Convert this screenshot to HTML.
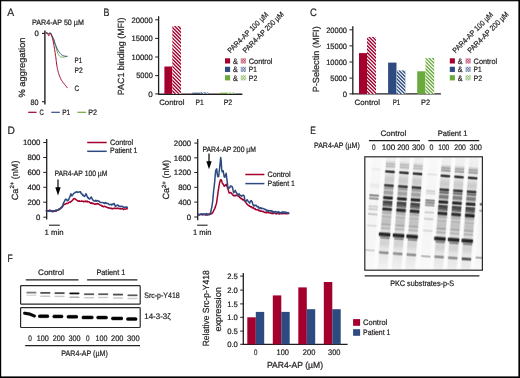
<!DOCTYPE html>
<html><head><meta charset="utf-8"><style>html,body{margin:0;padding:0;background:#fff;overflow:hidden}svg{display:block;will-change:transform}text{font-family:"Liberation Sans",sans-serif;stroke:#231f20;stroke-width:0.22px;text-rendering:geometricPrecision}</style></head>
<body><svg width="520" height="378" viewBox="0 0 520 378" font-family='"Liberation Sans", sans-serif'><defs><pattern id="hr" patternUnits="userSpaceOnUse" width="2.5" height="2.5" patternTransform="rotate(45)"><rect width="2.5" height="2.5" fill="#fff"/><rect width="2.5" height="1.45" fill="#a3002e"/></pattern><pattern id="cr" patternUnits="userSpaceOnUse" width="1.6" height="1.6"><rect width="1.6" height="1.6" fill="#fff"/><rect width="0.8" height="0.8" fill="#a3002e" opacity="0.95"/><rect x="0.8" y="0.8" width="0.8" height="0.8" fill="#a3002e" opacity="0.95"/></pattern><pattern id="hb" patternUnits="userSpaceOnUse" width="2.5" height="2.5" patternTransform="rotate(45)"><rect width="2.5" height="2.5" fill="#fff"/><rect width="2.5" height="1.45" fill="#2d4b80"/></pattern><pattern id="cb" patternUnits="userSpaceOnUse" width="1.6" height="1.6"><rect width="1.6" height="1.6" fill="#fff"/><rect width="0.8" height="0.8" fill="#2d4b80" opacity="0.95"/><rect x="0.8" y="0.8" width="0.8" height="0.8" fill="#2d4b80" opacity="0.95"/></pattern><pattern id="hg" patternUnits="userSpaceOnUse" width="2.5" height="2.5" patternTransform="rotate(45)"><rect width="2.5" height="2.5" fill="#fff"/><rect width="2.5" height="1.45" fill="#6aaa3c"/></pattern><pattern id="cg" patternUnits="userSpaceOnUse" width="1.6" height="1.6"><rect width="1.6" height="1.6" fill="#fff"/><rect width="0.8" height="0.8" fill="#6aaa3c" opacity="0.95"/><rect x="0.8" y="0.8" width="0.8" height="0.8" fill="#6aaa3c" opacity="0.95"/></pattern><filter id="bl1" x="-20%" y="-20%" width="140%" height="140%"><feGaussianBlur stdDeviation="0.6"/></filter><filter id="bl2" x="-10%" y="-10%" width="120%" height="120%"><feGaussianBlur stdDeviation="1.0"/></filter><linearGradient id="lgh" x1="0" y1="0" x2="0" y2="1"><stop offset="0" stop-color="#000" stop-opacity="0.03"/><stop offset="0.11" stop-color="#000" stop-opacity="0.06"/><stop offset="0.23" stop-color="#000" stop-opacity="0.12"/><stop offset="0.35" stop-color="#000" stop-opacity="0.17"/><stop offset="0.51" stop-color="#000" stop-opacity="0.19"/><stop offset="0.65" stop-color="#000" stop-opacity="0.14"/><stop offset="0.75" stop-color="#000" stop-opacity="0.1"/><stop offset="0.89" stop-color="#000" stop-opacity="0.07"/><stop offset="1" stop-color="#000" stop-opacity="0.02"/></linearGradient><linearGradient id="bg" x1="0" y1="0" x2="0" y2="1"><stop offset="0" stop-color="#000" stop-opacity="0"/><stop offset="0.2" stop-color="#000" stop-opacity="0.45"/><stop offset="0.38" stop-color="#000" stop-opacity="0.95"/><stop offset="0.62" stop-color="#000" stop-opacity="0.95"/><stop offset="0.8" stop-color="#000" stop-opacity="0.45"/><stop offset="1" stop-color="#000" stop-opacity="0"/></linearGradient><linearGradient id="lgl" x1="0" y1="0" x2="0" y2="1"><stop offset="0" stop-color="#000" stop-opacity="0.01"/><stop offset="0.5" stop-color="#000" stop-opacity="0.03"/><stop offset="1" stop-color="#000" stop-opacity="0.01"/></linearGradient></defs><rect width="520" height="378" fill="#fff"/><rect x="0" y="0" width="520" height="1.3" fill="#111"/><rect x="0" y="0" width="1.2" height="378" fill="#000"/><rect x="518.4" y="0" width="1.6" height="378" fill="#000"/><rect x="0" y="376.4" width="520" height="1.6" fill="#000"/>
<text x="7.2" y="15.9" font-size="10.82" textLength="6.9" lengthAdjust="spacingAndGlyphs" fill="#231f20">A</text>
<text x="103.4" y="15.9" font-size="10.82" textLength="5.9" lengthAdjust="spacingAndGlyphs" fill="#231f20">B</text>
<text x="309.9" y="15.9" font-size="10.82" textLength="6.8" lengthAdjust="spacingAndGlyphs" fill="#231f20">C</text>
<text x="7.4" y="133.8" font-size="10.82" textLength="7.4" lengthAdjust="spacingAndGlyphs" fill="#231f20">D</text>
<text x="310.2" y="133.9" font-size="10.82" textLength="5.6" lengthAdjust="spacingAndGlyphs" fill="#231f20">E</text>
<text x="7.4" y="261.9" font-size="10.82" textLength="5.2" lengthAdjust="spacingAndGlyphs" fill="#231f20">F</text>
<text x="32" y="24.6" font-size="7.81" textLength="51.9" lengthAdjust="spacingAndGlyphs" fill="#231f20">PAR4-AP 50 µM</text>
<line x1="44.9" y1="30.4" x2="44.9" y2="104.6" stroke="#231f20" stroke-width="1.4"/>
<line x1="42" y1="33.4" x2="44.9" y2="33.4" stroke="#231f20" stroke-width="1.1"/>
<line x1="42" y1="101.7" x2="44.9" y2="101.7" stroke="#231f20" stroke-width="1.1"/>
<text x="38.8" y="36.2" font-size="7.81" text-anchor="end" fill="#231f20">0</text>
<text x="38.6" y="104.8" font-size="7.81" textLength="8" lengthAdjust="spacingAndGlyphs" text-anchor="end" fill="#231f20">80</text>
<text transform="translate(24.6,97.5) rotate(-90)" font-size="9" textLength="60" lengthAdjust="spacingAndGlyphs" fill="#231f20">% aggregation</text>
<path d="M46.1,32.6 L46.24,32.65 L46.44,32.73 L46.67,32.81 L46.92,32.91 L47.17,33.01 L47.4,33.1 L47.61,33.21 L47.82,33.34 L48.02,33.47 L48.24,33.59 L48.46,33.67 L48.7,33.7 L48.96,33.63 L49.24,33.46 L49.53,33.26 L49.83,33.09 L50.12,33.02 L50.4,33.1 L50.67,33.36 L50.94,33.75 L51.2,34.23 L51.46,34.77 L51.73,35.34 L52,35.9 L52.28,36.46 L52.57,37.04 L52.87,37.65 L53.16,38.28 L53.44,38.93 L53.7,39.6 L53.94,40.31 L54.18,41.07 L54.4,41.84 L54.61,42.61 L54.81,43.34 L55,44 L55.16,44.55 L55.3,45 L55.42,45.41 L55.56,45.84 L55.71,46.35 L55.9,47 L56.14,47.85 L56.41,48.86 L56.7,49.96 L57,51.05 L57.31,52.06 L57.6,52.9 L57.88,53.58 L58.17,54.15 L58.45,54.64 L58.73,55.07 L59.02,55.45 L59.3,55.8 L59.57,56.11 L59.84,56.36 L60.1,56.57 L60.37,56.74 L60.67,56.88 L61,57 L61.36,57.1 L61.76,57.18 L62.17,57.23 L62.6,57.24 L63.05,57.24 L63.5,57.2 L64.01,57.12 L64.57,56.98 L65.16,56.81 L65.7,56.64 L66.17,56.5 L66.5,56.4" fill="none" stroke="#6aaa3c" stroke-width="1" stroke-linejoin="round" stroke-linecap="round"/>
<path d="M46.1,32.5 L46.24,32.55 L46.44,32.63 L46.67,32.71 L46.92,32.81 L47.17,32.91 L47.4,33 L47.61,33.11 L47.82,33.24 L48.02,33.37 L48.24,33.49 L48.46,33.57 L48.7,33.6 L48.96,33.53 L49.24,33.36 L49.53,33.16 L49.83,32.99 L50.12,32.91 L50.4,33 L50.67,33.27 L50.94,33.69 L51.2,34.2 L51.46,34.77 L51.73,35.35 L52,35.9 L52.28,36.42 L52.56,36.93 L52.84,37.46 L53.13,38.02 L53.42,38.63 L53.7,39.3 L53.98,40.05 L54.25,40.87 L54.52,41.74 L54.8,42.64 L55.09,43.53 L55.4,44.4 L55.73,45.27 L56.09,46.15 L56.45,47.03 L56.83,47.9 L57.21,48.73 L57.6,49.5 L58,50.23 L58.41,50.93 L58.83,51.59 L59.26,52.21 L59.68,52.78 L60.1,53.3 L60.52,53.76 L60.93,54.17 L61.34,54.54 L61.76,54.86 L62.18,55.14 L62.6,55.4 L63.03,55.62 L63.48,55.79 L63.93,55.92 L64.37,56.03 L64.8,56.12 L65.2,56.2 L65.59,56.26 L65.99,56.29 L66.36,56.3 L66.7,56.3 L66.99,56.3 L67.2,56.3" fill="none" stroke="#2d4b80" stroke-width="1" stroke-linejoin="round" stroke-linecap="round"/>
<path d="M46.1,33 L46.29,33.09 L46.57,33.19 L46.89,33.33 L47.23,33.49 L47.54,33.68 L47.8,33.9 L48,34.21 L48.16,34.6 L48.31,35.03 L48.44,35.43 L48.57,35.74 L48.7,35.9 L48.84,35.89 L48.97,35.75 L49.1,35.52 L49.23,35.24 L49.36,34.95 L49.5,34.7 L49.64,34.41 L49.77,34.03 L49.9,33.65 L50.04,33.33 L50.21,33.16 L50.4,33.2 L50.63,33.49 L50.89,33.97 L51.17,34.59 L51.46,35.3 L51.74,36.05 L52,36.8 L52.23,37.53 L52.46,38.3 L52.67,39.1 L52.88,39.96 L53.09,40.89 L53.3,41.9 L53.52,43.01 L53.73,44.21 L53.95,45.49 L54.17,46.81 L54.38,48.15 L54.6,49.5 L54.82,50.88 L55.05,52.31 L55.27,53.77 L55.5,55.23 L55.71,56.65 L55.9,58 L56.07,59.29 L56.21,60.53 L56.35,61.74 L56.49,62.91 L56.63,64.07 L56.8,65.2 L56.99,66.31 L57.19,67.4 L57.39,68.46 L57.61,69.5 L57.85,70.51 L58.1,71.5 L58.37,72.47 L58.66,73.43 L58.97,74.37 L59.28,75.27 L59.59,76.11 L59.9,76.9 L60.19,77.6 L60.47,78.23 L60.74,78.81 L61.03,79.37 L61.35,79.92 L61.7,80.5 L62.1,81.1 L62.53,81.7 L62.98,82.29 L63.45,82.89 L63.93,83.49 L64.4,84.1 L64.91,84.75 L65.46,85.46 L66.02,86.17 L66.54,86.84 L66.98,87.4 L67.3,87.8" fill="none" stroke="#a3002e" stroke-width="1" stroke-linejoin="round" stroke-linecap="round"/>
<text x="74.6" y="63.1" font-size="7.81" textLength="7.6" lengthAdjust="spacingAndGlyphs" fill="#231f20">P1</text>
<text x="74.6" y="72.9" font-size="7.81" textLength="8.2" lengthAdjust="spacingAndGlyphs" fill="#231f20">P2</text>
<text x="74.6" y="91" font-size="7.81" textLength="4.6" lengthAdjust="spacingAndGlyphs" fill="#231f20">C</text>
<line x1="28.2" y1="112.3" x2="36.6" y2="112.3" stroke="#a3002e" stroke-width="1.2"/>
<text x="39.4" y="115.1" font-size="7.81" textLength="4.2" lengthAdjust="spacingAndGlyphs" fill="#231f20">C</text>
<line x1="51.3" y1="112.3" x2="59.8" y2="112.3" stroke="#2d4b80" stroke-width="1.2"/>
<text x="62.2" y="115.1" font-size="7.81" textLength="8" lengthAdjust="spacingAndGlyphs" fill="#231f20">P1</text>
<line x1="77.5" y1="112.3" x2="86.1" y2="112.3" stroke="#6aaa3c" stroke-width="1.2"/>
<text x="88.3" y="115.1" font-size="7.81" textLength="8.8" lengthAdjust="spacingAndGlyphs" fill="#231f20">P2</text>
<line x1="158.6" y1="16.2" x2="158.6" y2="94.2" stroke="#231f20" stroke-width="1.3"/>
<line x1="158" y1="94.2" x2="242.4" y2="94.2" stroke="#231f20" stroke-width="1.5"/>
<line x1="155.2" y1="19.8" x2="158.6" y2="19.8" stroke="#231f20" stroke-width="1"/>
<text x="152.8" y="22.65" font-size="7.81" textLength="21.2" lengthAdjust="spacingAndGlyphs" text-anchor="end" fill="#231f20">20000</text>
<line x1="155.2" y1="38.4" x2="158.6" y2="38.4" stroke="#231f20" stroke-width="1"/>
<text x="152.8" y="41.25" font-size="7.81" textLength="21.2" lengthAdjust="spacingAndGlyphs" text-anchor="end" fill="#231f20">15000</text>
<line x1="155.2" y1="57" x2="158.6" y2="57" stroke="#231f20" stroke-width="1"/>
<text x="152.8" y="59.85" font-size="7.81" textLength="21.2" lengthAdjust="spacingAndGlyphs" text-anchor="end" fill="#231f20">10000</text>
<line x1="155.2" y1="75.6" x2="158.6" y2="75.6" stroke="#231f20" stroke-width="1"/>
<text x="152.8" y="78.45" font-size="7.81" textLength="16.6" lengthAdjust="spacingAndGlyphs" text-anchor="end" fill="#231f20">5000</text>
<line x1="155.2" y1="93.9" x2="158.6" y2="93.9" stroke="#231f20" stroke-width="1"/>
<text x="152.8" y="96.75" font-size="7.81" textLength="4.5" lengthAdjust="spacingAndGlyphs" text-anchor="end" fill="#231f20">0</text>
<text transform="translate(124.4,95.3) rotate(-90)" font-size="8.9" textLength="77.8" lengthAdjust="spacingAndGlyphs" fill="#231f20">PAC1 binding (MFI)</text>
<rect x="164.4" y="66.5" width="7.8" height="27.4" fill="#a3002e"/>
<clipPath id="hc1"><rect x="172.2" y="26.1" width="8.8" height="67.8"/></clipPath>
<g clip-path="url(#hc1)"><rect x="172.2" y="26.1" width="8.8" height="67.8" fill="#a3002e"/>
<path d="M171.2,10.33 L182,21.13 M171.2,13.86 L182,24.66 M171.2,17.39 L182,28.19 M171.2,20.92 L182,31.72 M171.2,24.45 L182,35.25 M171.2,27.98 L182,38.78 M171.2,31.51 L182,42.31 M171.2,35.04 L182,45.84 M171.2,38.57 L182,49.37 M171.2,42.1 L182,52.9 M171.2,45.63 L182,56.43 M171.2,49.16 L182,59.96 M171.2,52.69 L182,63.49 M171.2,56.22 L182,67.02 M171.2,59.75 L182,70.55 M171.2,63.28 L182,74.08 M171.2,66.81 L182,77.61 M171.2,70.34 L182,81.14 M171.2,73.87 L182,84.67 M171.2,77.4 L182,88.2 M171.2,80.93 L182,91.73 M171.2,84.46 L182,95.26 M171.2,87.99 L182,98.79 M171.2,91.52 L182,102.32 M171.2,95.05 L182,105.85" stroke="#fff" stroke-width="1.15" fill="none"/></g>
<rect x="192.3" y="92.7" width="8.4" height="1" fill="#2d4b80"/>
<rect x="200.7" y="92.4" width="7.6" height="1.3" fill="url(#hb)"/>
<rect x="219.8" y="92.7" width="8" height="1" fill="#6aaa3c"/>
<rect x="227.8" y="92.6" width="7.6" height="1.1" fill="url(#hg)"/>
<text x="159.2" y="105.1" font-size="7.81" textLength="25.3" lengthAdjust="spacingAndGlyphs" fill="#231f20">Control</text>
<text x="195.5" y="105.1" font-size="7.81" textLength="8.2" lengthAdjust="spacingAndGlyphs" fill="#231f20">P1</text>
<text x="223.7" y="105.1" font-size="7.81" textLength="8.6" lengthAdjust="spacingAndGlyphs" fill="#231f20">P2</text>
<rect x="225" y="58.3" width="5.1" height="5.2" fill="#a3002e"/>
<text x="233" y="64" font-size="7.81" textLength="4.8" lengthAdjust="spacingAndGlyphs" fill="#231f20">&amp;</text>
<rect x="240.7" y="58.3" width="5.3" height="5.2" fill="url(#cr)"/>
<text x="248.8" y="64" font-size="7.81" textLength="23.6" lengthAdjust="spacingAndGlyphs" fill="#231f20">Control</text>
<rect x="225" y="66.75" width="5.1" height="5.2" fill="#2d4b80"/>
<text x="233" y="72.45" font-size="7.81" textLength="4.8" lengthAdjust="spacingAndGlyphs" fill="#231f20">&amp;</text>
<rect x="240.7" y="66.75" width="5.3" height="5.2" fill="url(#cb)"/>
<text x="248.8" y="72.45" font-size="7.81" textLength="8" lengthAdjust="spacingAndGlyphs" fill="#231f20">P1</text>
<rect x="225" y="75.2" width="5.1" height="5.2" fill="#6aaa3c"/>
<text x="233" y="80.9" font-size="7.81" textLength="4.8" lengthAdjust="spacingAndGlyphs" fill="#231f20">&amp;</text>
<rect x="240.7" y="75.2" width="5.3" height="5.2" fill="url(#cg)"/>
<text x="248.8" y="80.9" font-size="7.81" textLength="8.6" lengthAdjust="spacingAndGlyphs" fill="#231f20">P2</text>
<text transform="translate(230.6,53.4) rotate(-45)" font-size="7.6" textLength="54" lengthAdjust="spacingAndGlyphs" fill="#231f20">PAR4-AP 100 µM</text>
<text transform="translate(245.7,53.4) rotate(-45)" font-size="7.6" textLength="54.6" lengthAdjust="spacingAndGlyphs" fill="#231f20">PAR4-AP 200 µM</text>
<line x1="352.8" y1="26.2" x2="352.8" y2="94.2" stroke="#231f20" stroke-width="1.3"/>
<line x1="352.2" y1="93.9" x2="440.9" y2="93.9" stroke="#231f20" stroke-width="1.3"/>
<line x1="349.4" y1="29.8" x2="352.8" y2="29.8" stroke="#231f20" stroke-width="1"/>
<text x="347" y="32.65" font-size="7.81" textLength="20.8" lengthAdjust="spacingAndGlyphs" text-anchor="end" fill="#231f20">20000</text>
<line x1="349.4" y1="45.9" x2="352.8" y2="45.9" stroke="#231f20" stroke-width="1"/>
<text x="347" y="48.75" font-size="7.81" textLength="20.8" lengthAdjust="spacingAndGlyphs" text-anchor="end" fill="#231f20">15000</text>
<line x1="349.4" y1="62" x2="352.8" y2="62" stroke="#231f20" stroke-width="1"/>
<text x="347" y="64.85" font-size="7.81" textLength="20.8" lengthAdjust="spacingAndGlyphs" text-anchor="end" fill="#231f20">10000</text>
<line x1="349.4" y1="78.1" x2="352.8" y2="78.1" stroke="#231f20" stroke-width="1"/>
<text x="347" y="80.95" font-size="7.81" textLength="16.8" lengthAdjust="spacingAndGlyphs" text-anchor="end" fill="#231f20">5000</text>
<line x1="349.4" y1="93.9" x2="352.8" y2="93.9" stroke="#231f20" stroke-width="1"/>
<text x="347" y="96.75" font-size="7.81" textLength="4.3" lengthAdjust="spacingAndGlyphs" text-anchor="end" fill="#231f20">0</text>
<text transform="translate(318.9,92.3) rotate(-90)" font-size="8.9" textLength="66" lengthAdjust="spacingAndGlyphs" fill="#231f20">P-Selectin (MFI)</text>
<rect x="359" y="53.1" width="8" height="40.8" fill="#a3002e"/>
<clipPath id="hc2"><rect x="367" y="36.8" width="9.1" height="57.1"/></clipPath>
<g clip-path="url(#hc2)"><rect x="367" y="36.8" width="9.1" height="57.1" fill="#a3002e"/>
<path d="M366,21.57 L377.1,32.67 M366,25.1 L377.1,36.2 M366,28.63 L377.1,39.73 M366,32.16 L377.1,43.26 M366,35.69 L377.1,46.79 M366,39.22 L377.1,50.32 M366,42.75 L377.1,53.85 M366,46.28 L377.1,57.38 M366,49.81 L377.1,60.91 M366,53.34 L377.1,64.44 M366,56.87 L377.1,67.97 M366,60.4 L377.1,71.5 M366,63.93 L377.1,75.03 M366,67.46 L377.1,78.56 M366,70.99 L377.1,82.09 M366,74.52 L377.1,85.62 M366,78.05 L377.1,89.15 M366,81.58 L377.1,92.68 M366,85.11 L377.1,96.21 M366,88.64 L377.1,99.74 M366,92.17 L377.1,103.27 M366,95.7 L377.1,106.8" stroke="#fff" stroke-width="1.15" fill="none"/></g>
<rect x="388.1" y="62.6" width="8.4" height="31.3" fill="#2d4b80"/>
<clipPath id="hc3"><rect x="396.5" y="70.3" width="9.1" height="23.6"/></clipPath>
<g clip-path="url(#hc3)"><rect x="396.5" y="70.3" width="9.1" height="23.6" fill="#2d4b80"/>
<path d="M395.5,54.6 L406.6,65.7 M395.5,58.13 L406.6,69.23 M395.5,61.66 L406.6,72.76 M395.5,65.19 L406.6,76.29 M395.5,68.72 L406.6,79.82 M395.5,72.25 L406.6,83.35 M395.5,75.78 L406.6,86.88 M395.5,79.31 L406.6,90.41 M395.5,82.84 L406.6,93.94 M395.5,86.37 L406.6,97.47 M395.5,89.9 L406.6,101 M395.5,93.43 L406.6,104.53" stroke="#fff" stroke-width="1.15" fill="none"/></g>
<rect x="417.2" y="71.3" width="8.1" height="22.6" fill="#6aaa3c"/>
<clipPath id="hc4"><rect x="425.3" y="57.8" width="9.1" height="36.1"/></clipPath>
<g clip-path="url(#hc4)"><rect x="425.3" y="57.8" width="9.1" height="36.1" fill="#6aaa3c"/>
<path d="M424.3,41.04 L435.4,52.14 M424.3,44.57 L435.4,55.67 M424.3,48.1 L435.4,59.2 M424.3,51.63 L435.4,62.73 M424.3,55.16 L435.4,66.26 M424.3,58.69 L435.4,69.79 M424.3,62.22 L435.4,73.32 M424.3,65.75 L435.4,76.85 M424.3,69.28 L435.4,80.38 M424.3,72.81 L435.4,83.91 M424.3,76.34 L435.4,87.44 M424.3,79.87 L435.4,90.97 M424.3,83.4 L435.4,94.5 M424.3,86.93 L435.4,98.03 M424.3,90.46 L435.4,101.56 M424.3,93.99 L435.4,105.09" stroke="#fff" stroke-width="1.15" fill="none"/></g>
<text x="354.6" y="105.1" font-size="7.81" textLength="25.3" lengthAdjust="spacingAndGlyphs" fill="#231f20">Control</text>
<text x="392.7" y="105.1" font-size="7.81" textLength="7.6" lengthAdjust="spacingAndGlyphs" fill="#231f20">P1</text>
<text x="421" y="105.1" font-size="7.81" textLength="9" lengthAdjust="spacingAndGlyphs" fill="#231f20">P2</text>
<rect x="449.8" y="58.3" width="5.1" height="5.2" fill="#a3002e"/>
<text x="457.8" y="64" font-size="7.81" textLength="4.8" lengthAdjust="spacingAndGlyphs" fill="#231f20">&amp;</text>
<rect x="465.5" y="58.3" width="5.3" height="5.2" fill="url(#cr)"/>
<text x="473.6" y="64" font-size="7.81" textLength="23.6" lengthAdjust="spacingAndGlyphs" fill="#231f20">Control</text>
<rect x="449.8" y="66.75" width="5.1" height="5.2" fill="#2d4b80"/>
<text x="457.8" y="72.45" font-size="7.81" textLength="4.8" lengthAdjust="spacingAndGlyphs" fill="#231f20">&amp;</text>
<rect x="465.5" y="66.75" width="5.3" height="5.2" fill="url(#cb)"/>
<text x="473.6" y="72.45" font-size="7.81" textLength="8" lengthAdjust="spacingAndGlyphs" fill="#231f20">P1</text>
<rect x="449.8" y="75.2" width="5.1" height="5.2" fill="#6aaa3c"/>
<text x="457.8" y="80.9" font-size="7.81" textLength="4.8" lengthAdjust="spacingAndGlyphs" fill="#231f20">&amp;</text>
<rect x="465.5" y="75.2" width="5.3" height="5.2" fill="url(#cg)"/>
<text x="473.6" y="80.9" font-size="7.81" textLength="8.6" lengthAdjust="spacingAndGlyphs" fill="#231f20">P2</text>
<text transform="translate(455.5,53.4) rotate(-45)" font-size="7.6" textLength="54" lengthAdjust="spacingAndGlyphs" fill="#231f20">PAR4-AP 100 µM</text>
<text transform="translate(470.6,53.4) rotate(-45)" font-size="7.6" textLength="54.6" lengthAdjust="spacingAndGlyphs" fill="#231f20">PAR4-AP 200 µM</text>
<line x1="46.7" y1="139.1" x2="46.7" y2="219.5" stroke="#231f20" stroke-width="1.3"/>
<line x1="43.3" y1="142.5" x2="46.7" y2="142.5" stroke="#231f20" stroke-width="1"/>
<text x="40.4" y="145.35" font-size="7.81" text-anchor="end" fill="#231f20">1000</text>
<line x1="43.3" y1="157.5" x2="46.7" y2="157.5" stroke="#231f20" stroke-width="1"/>
<text x="40.4" y="160.35" font-size="7.81" text-anchor="end" fill="#231f20">800</text>
<line x1="43.3" y1="172.4" x2="46.7" y2="172.4" stroke="#231f20" stroke-width="1"/>
<text x="40.4" y="175.25" font-size="7.81" text-anchor="end" fill="#231f20">600</text>
<line x1="43.3" y1="187.3" x2="46.7" y2="187.3" stroke="#231f20" stroke-width="1"/>
<text x="40.4" y="190.15" font-size="7.81" text-anchor="end" fill="#231f20">400</text>
<line x1="43.3" y1="202.2" x2="46.7" y2="202.2" stroke="#231f20" stroke-width="1"/>
<text x="40.4" y="205.05" font-size="7.81" text-anchor="end" fill="#231f20">200</text>
<line x1="43.3" y1="217.2" x2="46.7" y2="217.2" stroke="#231f20" stroke-width="1"/>
<text x="40.4" y="220.05" font-size="7.81" text-anchor="end" fill="#231f20">0</text>
<text transform="translate(17.6,200.2) rotate(-90)" font-size="9" textLength="39.6" lengthAdjust="spacingAndGlyphs" fill="#231f20">Ca<tspan font-size="6.0" dy="-3.6">2+</tspan><tspan dy="3.6"> (nM)</tspan></text>
<line x1="87.2" y1="142.5" x2="106.7" y2="142.5" stroke="#a3002e" stroke-width="1.5"/>
<text x="110" y="144.7" font-size="7.81" textLength="23.2" lengthAdjust="spacingAndGlyphs" fill="#231f20">Control</text>
<line x1="87.2" y1="151.3" x2="106.7" y2="151.3" stroke="#2d4b80" stroke-width="1.5"/>
<text x="110" y="153.3" font-size="7.81" textLength="27.4" lengthAdjust="spacingAndGlyphs" fill="#231f20">Patient 1</text>
<text x="54.4" y="175.7" font-size="7.81" textLength="53" lengthAdjust="spacingAndGlyphs" fill="#231f20">PAR4-AP 100 µM</text>
<line x1="58" y1="179.5" x2="58" y2="189" stroke="#000" stroke-width="1.2"/>
<path d="M55.3,187.2 L60.7,187.2 L58,195.4 Z" fill="#000"/>
<line x1="49" y1="225.2" x2="59.8" y2="225.2" stroke="#231f20" stroke-width="1.1"/>
<text x="44.6" y="235.1" font-size="7.81" textLength="19" lengthAdjust="spacingAndGlyphs" fill="#231f20">1 min</text>
<path d="M46.3,210.73 L46.9,210.95 L47.5,210.73 L48.1,210.88 L48.7,210.84 L49.3,210.28 L49.9,210.17 L50.5,211.02 L51.1,210.64 L51.7,210.76 L52.3,211.58 L52.9,211.25 L53.5,211.55 L54.1,211.17 L54.7,211.26 L55.3,210.76 L55.9,211.13 L56.5,211.08 L57.1,210.46 L57.7,210.35 L58.3,209.98 L58.9,209.13 L59.5,209.45 L60.1,208.99 L60.7,208.43 L61.3,207.69 L61.9,207.57 L62.5,206.35 L63.1,205.7 L63.7,204.98 L64.3,204.3 L64.9,204.31 L65.5,203.66 L66.1,203.84 L66.7,203.34 L67.3,203.6 L67.9,203.35 L68.5,202.46 L69.1,202.3 L69.7,202.11 L70.3,202.4 L70.9,201.53 L71.5,201.31 L72.1,200.62 L72.7,200.09 L73.3,199.27 L73.9,198.52 L74.5,198.55 L75.1,198.89 L75.7,199.52 L76.3,199.66 L76.9,200.29 L77.5,200.64 L78.1,201.17 L78.7,201.29 L79.3,200.82 L79.9,201.36 L80.5,201.36 L81.1,201.21 L81.7,200.97 L82.3,201.32 L82.9,201.08 L83.5,201.85 L84.1,201.73 L84.7,201.35 L85.3,201.04 L85.9,201.63 L86.5,201.64 L87.1,201.05 L87.7,201.9 L88.3,201.77 L88.9,201.75 L89.5,202.15 L90.1,202.87 L90.7,203.25 L91.3,202.79 L91.9,203.46 L92.5,203.04 L93.1,203.73 L93.7,203.47 L94.3,204.05 L94.9,204.23 L95.5,203.84 L96.1,204.32 L96.7,203.74 L97.3,203.57 L97.9,204.08 L98.5,203.79 L99.1,204.25 L99.7,204.76 L100.3,205.25 L100.9,205.14 L101.5,205.34 L102.1,206.38 L102.7,206 L103.3,206.67 L103.9,206.7 L104.5,206.32 L105.1,206.5 L105.7,206.77 L106.3,207.09 L106.9,207.26 L107.5,207.45 L108.1,207.7 L108.7,208.16 L109.3,207.95 L109.9,208.06 L110.5,208.49 L111.1,208.23 L111.7,208.32 L112.3,208.93 L112.9,208.52 L113.5,208.54 L114.1,208.06 L114.7,208.42 L115.3,208.57 L115.9,208.07 L116.5,208.6 L117.1,208.62 L117.7,208.1 L118.3,208.61 L118.9,208.47 L119.5,208.66 L120.1,208.47 L120.7,208.89 L121.3,209.01 L121.9,208.47 L122.5,208.6 L123.1,209.26 L123.7,209.62 L124.3,208.93 L124.9,209.07 L125.5,209.14 L126.1,208.85 L126.7,208.84 L127.3,208.75" fill="none" stroke="#a3002e" stroke-width="1.5" stroke-linejoin="round" stroke-linecap="round"/>
<path d="M46.3,210.74 L46.9,210.89 L47.5,210.97 L48.1,211.15 L48.7,210.97 L49.3,211.19 L49.9,210.32 L50.5,210.83 L51.1,211.39 L51.7,211.18 L52.3,211.51 L52.9,210.8 L53.5,211.05 L54.1,210.69 L54.7,210.85 L55.3,210.74 L55.9,210.04 L56.5,210.04 L57.1,209.89 L57.7,210.32 L58.3,209.95 L58.9,209.14 L59.5,209.51 L60.1,208.31 L60.7,208.25 L61.3,207.22 L61.9,206.56 L62.5,206.49 L63.1,204.07 L63.7,202.39 L64.3,201.82 L64.9,200.37 L65.5,199.19 L66.1,199.26 L66.7,199.61 L67.3,200.8 L67.9,200 L68.5,200.14 L69.1,198.57 L69.7,197.16 L70.3,195.4 L70.9,193.73 L71.5,195.79 L72.1,195.7 L72.7,194.83 L73.3,193.94 L73.9,193.39 L74.5,193.15 L75.1,192.24 L75.7,192.6 L76.3,191.95 L76.9,191.75 L77.5,192.37 L78.1,192.15 L78.7,192.1 L79.3,191.97 L79.9,191.83 L80.5,191.7 L81.1,193.59 L81.7,193.42 L82.3,194.75 L82.9,195.44 L83.5,195.12 L84.1,196.35 L84.7,196.39 L85.3,195.6 L85.9,193.73 L86.5,194.7 L87.1,196.22 L87.7,197.78 L88.3,197.51 L88.9,198.55 L89.5,199.05 L90.1,198.58 L90.7,197.49 L91.3,197.02 L91.9,198.07 L92.5,199.89 L93.1,200.05 L93.7,200.77 L94.3,200.9 L94.9,201.04 L95.5,200.3 L96.1,201.26 L96.7,200.42 L97.3,200.69 L97.9,200.98 L98.5,201.31 L99.1,201.01 L99.7,202.13 L100.3,202.3 L100.9,202.53 L101.5,202.62 L102.1,202.56 L102.7,202.55 L103.3,202.65 L103.9,203.19 L104.5,203.5 L105.1,202.66 L105.7,202.55 L106.3,203.49 L106.9,203.28 L107.5,203.46 L108.1,203.59 L108.7,204.24 L109.3,204.74 L109.9,204.43 L110.5,204.47 L111.1,204.17 L111.7,205.09 L112.3,204.07 L112.9,204.29 L113.5,204.4 L114.1,203.45 L114.7,204.65 L115.3,206.31 L115.9,205.99 L116.5,205.86 L117.1,204.9 L117.7,205.17 L118.3,205.31 L118.9,206.42 L119.5,206.29 L120.1,206.25 L120.7,206.6 L121.3,206.25 L121.9,206.48 L122.5,206.35 L123.1,206.79 L123.7,207.43 L124.3,207.26 L124.9,207.16 L125.5,207.36 L126.1,207.02 L126.7,207.01 L127.3,207.37" fill="none" stroke="#2d4b80" stroke-width="1.5" stroke-linejoin="round" stroke-linecap="round"/>
<line x1="197.7" y1="139.1" x2="197.7" y2="220.2" stroke="#231f20" stroke-width="1.3"/>
<line x1="194.3" y1="143.1" x2="197.7" y2="143.1" stroke="#231f20" stroke-width="1"/>
<text x="191.2" y="145.95" font-size="7.81" text-anchor="end" fill="#231f20">2000</text>
<line x1="194.3" y1="157.8" x2="197.7" y2="157.8" stroke="#231f20" stroke-width="1"/>
<text x="191.2" y="160.65" font-size="7.81" text-anchor="end" fill="#231f20">1600</text>
<line x1="194.3" y1="172.5" x2="197.7" y2="172.5" stroke="#231f20" stroke-width="1"/>
<text x="191.2" y="175.35" font-size="7.81" text-anchor="end" fill="#231f20">1200</text>
<line x1="194.3" y1="187.3" x2="197.7" y2="187.3" stroke="#231f20" stroke-width="1"/>
<text x="191.2" y="190.15" font-size="7.81" text-anchor="end" fill="#231f20">800</text>
<line x1="194.3" y1="202.1" x2="197.7" y2="202.1" stroke="#231f20" stroke-width="1"/>
<text x="191.2" y="204.95" font-size="7.81" text-anchor="end" fill="#231f20">400</text>
<line x1="194.3" y1="217" x2="197.7" y2="217" stroke="#231f20" stroke-width="1"/>
<text x="191.2" y="219.85" font-size="7.81" text-anchor="end" fill="#231f20">0</text>
<text transform="translate(169.2,199.6) rotate(-90)" font-size="9" textLength="39.6" lengthAdjust="spacingAndGlyphs" fill="#231f20">Ca<tspan font-size="6.0" dy="-3.6">2+</tspan><tspan dy="3.6"> (nM)</tspan></text>
<text x="202.5" y="151.8" font-size="7.81" textLength="53.5" lengthAdjust="spacingAndGlyphs" fill="#231f20">PAR4-AP 200 µM</text>
<line x1="209" y1="153.6" x2="209" y2="163" stroke="#000" stroke-width="1.2"/>
<path d="M206.3,161.2 L211.7,161.2 L209,169.3 Z" fill="#000"/>
<line x1="245.3" y1="174.5" x2="264.4" y2="174.5" stroke="#a3002e" stroke-width="1.5"/>
<text x="267.5" y="176.7" font-size="7.81" textLength="23.2" lengthAdjust="spacingAndGlyphs" fill="#231f20">Control</text>
<line x1="245.3" y1="183.6" x2="264.4" y2="183.6" stroke="#2d4b80" stroke-width="1.5"/>
<text x="267.5" y="185.5" font-size="7.81" textLength="27.4" lengthAdjust="spacingAndGlyphs" fill="#231f20">Patient 1</text>
<line x1="197.1" y1="225.2" x2="207.6" y2="225.2" stroke="#231f20" stroke-width="1.1"/>
<text x="192.9" y="235.1" font-size="7.81" textLength="18.6" lengthAdjust="spacingAndGlyphs" fill="#231f20">1 min</text>
<path d="M198.2,214.56 L198.7,214.63 L199.2,214.94 L199.7,214.51 L200.2,214.52 L200.7,214.57 L201.2,214.19 L201.7,214.46 L202.2,214.55 L202.7,214.68 L203.2,214.05 L203.7,214.29 L204.2,214.15 L204.7,214.85 L205.2,214.79 L205.7,214.26 L206.2,215.12 L206.7,215.07 L207.2,214.76 L207.7,214.69 L208.2,214.25 L208.7,214.08 L209.2,214.51 L209.7,214.06 L210.2,214.14 L210.7,214.05 L211.2,213.56 L211.7,213.65 L212.2,213.11 L212.7,212.64 L213.2,211.52 L213.7,210.7 L214.2,209.52 L214.7,208.61 L215.2,207.36 L215.7,205.51 L216.2,204.46 L216.7,202.05 L217.2,198.41 L217.7,194.85 L218.2,191.17 L218.7,187.92 L219.2,184.92 L219.7,182.34 L220.2,180.74 L220.7,179.69 L221.2,179.8 L221.7,180.81 L222.2,182.76 L222.7,183.89 L223.2,184.06 L223.7,185.18 L224.2,186.25 L224.7,185.55 L225.2,185.71 L225.7,184.89 L226.2,184.3 L226.7,185.26 L227.2,187.02 L227.7,188.18 L228.2,189.64 L228.7,191.48 L229.2,193.06 L229.7,192.97 L230.2,192.5 L230.7,192.71 L231.2,192.86 L231.7,193.36 L232.2,194.56 L232.7,194.54 L233.2,195.42 L233.7,195.74 L234.2,195.45 L234.7,195.87 L235.2,195.27 L235.7,195.67 L236.2,195.15 L236.7,195.43 L237.2,195.24 L237.7,195.29 L238.2,196.13 L238.7,196.51 L239.2,196.58 L239.7,197.63 L240.2,197.48 L240.7,197.99 L241.2,198.76 L241.7,198.92 L242.2,198.76 L242.7,199.86 L243.2,199.46 L243.7,199.8 L244.2,200.75 L244.7,201.1 L245.2,201.82 L245.7,202.37 L246.2,203.01 L246.7,203.91 L247.2,204.06 L247.7,204.84 L248.2,205.08 L248.7,205.45 L249.2,206.19 L249.7,206.05 L250.2,206.42 L250.7,206.97 L251.2,206.64 L251.7,206.9 L252.2,207.87 L252.7,208.02 L253.2,207.75 L253.7,207.93 L254.2,208.66 L254.7,209.08 L255.2,208.65 L255.7,209.56 L256.2,209.72 L256.7,209.66 L257.2,209.68 L257.7,209.58 L258.2,209.71 L258.7,210.73 L259.2,210.26 L259.7,210.87 L260.2,210.64 L260.7,211.3 L261.2,211.25 L261.7,211.12 L262.2,211.17 L262.7,211.81 L263.2,211.37 L263.7,211.67 L264.2,212.11 L264.7,212.53 L265.2,212.43 L265.7,212.21 L266.2,212.86 L266.7,212.3 L267.2,212.21 L267.7,212.51 L268.2,212.75 L268.7,212.48 L269.2,212.66 L269.7,212.91 L270.2,213.17 L270.7,212.85 L271.2,213.09 L271.7,213.59 L272.2,213.69 L272.7,213.41 L273.2,213.46 L273.7,213.39 L274.2,213.01 L274.7,212.93 L275.2,212.94 L275.7,213.76 L276.2,213.59 L276.7,213.85 L277.2,213.03 L277.7,213.61 L278.2,213.49 L278.7,213.74 L279.2,213.4 L279.7,214.03 L280.2,213.2 L280.7,213.59 L281.2,213.72 L281.7,213.83 L282.2,213.65 L282.7,213.58 L283.2,213.62 L283.7,213.7 L284.2,213.18 L284.7,213.51 L285.2,213.73 L285.7,213.74 L286.2,213.36 L286.7,213.73 L287.2,213.82 L287.7,213.59 L288.2,213.67 L288.7,213.48" fill="none" stroke="#a3002e" stroke-width="1.5" stroke-linejoin="round" stroke-linecap="round"/>
<path d="M198.2,214.04 L198.7,214.7 L199.2,214.72 L199.7,214.99 L200.2,214.01 L200.7,214.1 L201.2,214 L201.7,214.13 L202.2,214.92 L202.7,214.03 L203.2,214.62 L203.7,214.08 L204.2,214.13 L204.7,214.27 L205.2,214.81 L205.7,214.4 L206.2,213.48 L206.7,213.9 L207.2,213.74 L207.7,214.85 L208.2,214.79 L208.7,214.81 L209.2,214.87 L209.7,214.31 L210.2,213.49 L210.7,212.12 L211.2,209.57 L211.7,207.79 L212.2,204.58 L212.7,201.18 L213.2,195.4 L213.7,190.26 L214.2,186.07 L214.7,181.67 L215.2,175.39 L215.7,170.63 L216.2,169.68 L216.7,168.91 L217.2,173.49 L217.7,176.57 L218.2,176.76 L218.7,176.47 L219.2,171.05 L219.7,167.36 L220.2,162.47 L220.7,157.53 L221.2,160.82 L221.7,169.75 L222.2,171.95 L222.7,170.97 L223.2,170.84 L223.7,173.94 L224.2,176.96 L224.7,177.26 L225.2,175.72 L225.7,174.56 L226.2,173.34 L226.7,177.91 L227.2,181.78 L227.7,185.91 L228.2,188.06 L228.7,188.05 L229.2,188.07 L229.7,187.93 L230.2,186.16 L230.7,185.94 L231.2,186.56 L231.7,186.23 L232.2,186.64 L232.7,188.26 L233.2,190.97 L233.7,192.79 L234.2,192.15 L234.7,191.35 L235.2,190.32 L235.7,191.96 L236.2,191.91 L236.7,193.28 L237.2,193.57 L237.7,195.4 L238.2,194.58 L238.7,194.49 L239.2,193.77 L239.7,194.88 L240.2,195.32 L240.7,195.7 L241.2,195.52 L241.7,196.24 L242.2,195.69 L242.7,195.45 L243.2,195.08 L243.7,195.68 L244.2,195.96 L244.7,199.23 L245.2,200.75 L245.7,201.35 L246.2,200.96 L246.7,200.68 L247.2,199.66 L247.7,200.51 L248.2,201.36 L248.7,201.99 L249.2,202.24 L249.7,203.19 L250.2,201.34 L250.7,201.07 L251.2,200.48 L251.7,201.25 L252.2,201.97 L252.7,204.05 L253.2,204.96 L253.7,206.06 L254.2,205.22 L254.7,205.7 L255.2,205.32 L255.7,205.4 L256.2,205.35 L256.7,205.91 L257.2,206.83 L257.7,206.89 L258.2,206.63 L258.7,207.46 L259.2,208.21 L259.7,208.08 L260.2,207.5 L260.7,208.29 L261.2,208.69 L261.7,207.96 L262.2,208.6 L262.7,208.48 L263.2,208.55 L263.7,208.86 L264.2,208.97 L264.7,209.43 L265.2,209.2 L265.7,209.96 L266.2,209.71 L266.7,210.94 L267.2,210.93 L267.7,210.26 L268.2,211.37 L268.7,210.45 L269.2,210.84 L269.7,210.91 L270.2,210.62 L270.7,210.74 L271.2,211.14 L271.7,210.88 L272.2,212.16 L272.7,211.21 L273.2,212.46 L273.7,211.74 L274.2,211.88 L274.7,211.98 L275.2,211.41 L275.7,211.52 L276.2,211.84 L276.7,211.93 L277.2,212.62 L277.7,212.92 L278.2,211.64 L278.7,212.51 L279.2,212.03 L279.7,213.18 L280.2,212.51 L280.7,213.32 L281.2,212.75 L281.7,212.07 L282.2,211.84 L282.7,212.15 L283.2,213.03 L283.7,211.9 L284.2,212.38 L284.7,212.24 L285.2,212.22 L285.7,212.92 L286.2,212.06 L286.7,212.84 L287.2,212.78 L287.7,213.2 L288.2,212.6 L288.7,213.22" fill="none" stroke="#2d4b80" stroke-width="1.5" stroke-linejoin="round" stroke-linecap="round"/>
<text x="380.6" y="135.9" font-size="7.92" textLength="25.7" lengthAdjust="spacingAndGlyphs" fill="#231f20">Control</text>
<text x="437.7" y="135.9" font-size="7.92" textLength="29.7" lengthAdjust="spacingAndGlyphs" fill="#231f20">Patient 1</text>
<line x1="368.9" y1="140.6" x2="420" y2="140.6" stroke="#231f20" stroke-width="1.2"/>
<line x1="428.3" y1="140.6" x2="479.2" y2="140.6" stroke="#231f20" stroke-width="1.2"/>
<text x="314" y="148.3" font-size="7.92" textLength="45.8" lengthAdjust="spacingAndGlyphs" fill="#231f20">PAR4-AP (µM)</text>
<text x="372" y="150.3" font-size="8.03" textLength="3.6" lengthAdjust="spacingAndGlyphs" fill="#231f20">0</text>
<text x="381.7" y="150.3" font-size="8.03" textLength="13.5" lengthAdjust="spacingAndGlyphs" fill="#231f20">100</text>
<text x="397.2" y="150.3" font-size="8.03" textLength="12.1" lengthAdjust="spacingAndGlyphs" fill="#231f20">200</text>
<text x="411.9" y="150.3" font-size="8.03" textLength="12.9" lengthAdjust="spacingAndGlyphs" fill="#231f20">300</text>
<text x="429.4" y="150.3" font-size="8.03" textLength="3.9" lengthAdjust="spacingAndGlyphs" fill="#231f20">0</text>
<text x="438.2" y="150.3" font-size="8.03" textLength="11.1" lengthAdjust="spacingAndGlyphs" fill="#231f20">100</text>
<text x="454.3" y="150.3" font-size="8.03" textLength="11.5" lengthAdjust="spacingAndGlyphs" fill="#231f20">200</text>
<text x="469.5" y="150.3" font-size="8.03" textLength="12.4" lengthAdjust="spacingAndGlyphs" fill="#231f20">300</text>
<clipPath id="ce"><rect x="364.8" y="156.8" width="117.59999999999997" height="113.39999999999998"/></clipPath>
<g clip-path="url(#ce)"><rect x="364.8" y="156.8" width="117.59999999999997" height="113.39999999999998" fill="#fbfbfb"/>
<g transform="rotate(4.4,423.6,213.5)">
<rect x="368.5" y="151.8" width="8.8" height="123.4" fill="url(#lgl)" opacity="0.65"/>
<rect x="367.5" y="151.8" width="10.8" height="123.4" fill="url(#lgl)" opacity="0.4"/>
<rect x="368.4" y="171.35" width="9" height="3.5" rx="1.2" fill="url(#bg)" opacity="0.04"/>
<rect x="367.6" y="171.15" width="10.6" height="3.9" rx="1.5" fill="url(#bg)" opacity="0.01"/>
<rect x="368.4" y="185.9" width="9" height="7" rx="1.2" fill="url(#bg)" opacity="0.04"/>
<rect x="367.6" y="185.7" width="10.6" height="7.4" rx="1.5" fill="url(#bg)" opacity="0.01"/>
<rect x="368.4" y="197.4" width="9" height="3.8" rx="1.2" fill="url(#bg)" opacity="0.34"/>
<rect x="367.6" y="197.2" width="10.6" height="4.2" rx="1.5" fill="url(#bg)" opacity="0.13"/>
<rect x="368.4" y="200.5" width="9" height="3.8" rx="1.2" fill="url(#bg)" opacity="0.3"/>
<rect x="367.6" y="200.3" width="10.6" height="4.2" rx="1.5" fill="url(#bg)" opacity="0.11"/>
<rect x="368.4" y="208.6" width="9" height="3.6" rx="1.2" fill="url(#bg)" opacity="0.1"/>
<rect x="367.6" y="208.4" width="10.6" height="4" rx="1.5" fill="url(#bg)" opacity="0.04"/>
<rect x="368.4" y="211.3" width="9" height="3.6" rx="1.2" fill="url(#bg)" opacity="0.11"/>
<rect x="367.6" y="211.1" width="10.6" height="4" rx="1.5" fill="url(#bg)" opacity="0.04"/>
<rect x="368.4" y="216.3" width="9" height="3.6" rx="1.2" fill="url(#bg)" opacity="0.13"/>
<rect x="367.6" y="216.1" width="10.6" height="4" rx="1.5" fill="url(#bg)" opacity="0.05"/>
<rect x="368.4" y="227.9" width="9" height="3.6" rx="1.2" fill="url(#bg)" opacity="0.07"/>
<rect x="367.6" y="227.7" width="10.6" height="4" rx="1.5" fill="url(#bg)" opacity="0.03"/>
<rect x="368.4" y="252.6" width="9" height="3.4" rx="1.2" fill="url(#bg)" opacity="0.12"/>
<rect x="367.6" y="252.4" width="10.6" height="3.8" rx="1.5" fill="url(#bg)" opacity="0.04"/>
<rect x="382.5" y="151.8" width="8.8" height="123.4" fill="url(#lgh)" opacity="0.65"/>
<rect x="381.5" y="151.8" width="10.8" height="123.4" fill="url(#lgh)" opacity="0.4"/>
<rect x="382.4" y="162.82" width="9" height="5" rx="1.2" fill="url(#bg)" opacity="0.06"/>
<rect x="381.6" y="162.62" width="10.6" height="5.4" rx="1.5" fill="url(#bg)" opacity="0.02"/>
<rect x="382.4" y="165.02" width="9" height="3.6" rx="1.2" fill="url(#bg)" opacity="0.12"/>
<rect x="381.6" y="164.82" width="10.6" height="4" rx="1.5" fill="url(#bg)" opacity="0.04"/>
<rect x="382.4" y="167.32" width="9" height="3.6" rx="1.2" fill="url(#bg)" opacity="0.14"/>
<rect x="381.6" y="167.12" width="10.6" height="4" rx="1.5" fill="url(#bg)" opacity="0.05"/>
<rect x="382.4" y="172.42" width="9" height="4" rx="1.2" fill="url(#bg)" opacity="0.68"/>
<rect x="381.6" y="172.22" width="10.6" height="4.4" rx="1.5" fill="url(#bg)" opacity="0.26"/>
<rect x="382.4" y="176.82" width="9" height="10" rx="1.2" fill="url(#bg)" opacity="0.05"/>
<rect x="381.6" y="176.62" width="10.6" height="10.4" rx="1.5" fill="url(#bg)" opacity="0.02"/>
<rect x="382.4" y="186.12" width="9" height="4.4" rx="1.2" fill="url(#bg)" opacity="0.64"/>
<rect x="381.6" y="185.92" width="10.6" height="4.8" rx="1.5" fill="url(#bg)" opacity="0.24"/>
<rect x="382.4" y="189.32" width="9" height="3.6" rx="1.2" fill="url(#bg)" opacity="0.2"/>
<rect x="381.6" y="189.12" width="10.6" height="4" rx="1.5" fill="url(#bg)" opacity="0.07"/>
<rect x="382.4" y="192.07" width="9" height="6.5" rx="1.2" fill="url(#bg)" opacity="0.18"/>
<rect x="381.6" y="191.87" width="10.6" height="6.9" rx="1.5" fill="url(#bg)" opacity="0.07"/>
<rect x="382.4" y="198.22" width="9" height="4.8" rx="1.2" fill="url(#bg)" opacity="0.74"/>
<rect x="381.6" y="198.02" width="10.6" height="5.2" rx="1.5" fill="url(#bg)" opacity="0.28"/>
<rect x="382.4" y="202.82" width="9" height="3.8" rx="1.2" fill="url(#bg)" opacity="0.54"/>
<rect x="381.6" y="202.62" width="10.6" height="4.2" rx="1.5" fill="url(#bg)" opacity="0.2"/>
<rect x="382.4" y="204.62" width="9" height="3.6" rx="1.2" fill="url(#bg)" opacity="0.44"/>
<rect x="381.6" y="204.42" width="10.6" height="4" rx="1.5" fill="url(#bg)" opacity="0.17"/>
<rect x="382.4" y="206.22" width="9" height="4" rx="1.2" fill="url(#bg)" opacity="0.36"/>
<rect x="381.6" y="206.02" width="10.6" height="4.4" rx="1.5" fill="url(#bg)" opacity="0.14"/>
<rect x="382.4" y="209.72" width="9" height="4.6" rx="1.2" fill="url(#bg)" opacity="0.72"/>
<rect x="381.6" y="209.52" width="10.6" height="5" rx="1.5" fill="url(#bg)" opacity="0.27"/>
<rect x="382.4" y="212.82" width="9" height="5" rx="1.2" fill="url(#bg)" opacity="0.1"/>
<rect x="381.6" y="212.62" width="10.6" height="5.4" rx="1.5" fill="url(#bg)" opacity="0.04"/>
<rect x="382.4" y="217.62" width="9" height="3.6" rx="1.2" fill="url(#bg)" opacity="0.07"/>
<rect x="381.6" y="217.42" width="10.6" height="4" rx="1.5" fill="url(#bg)" opacity="0.03"/>
<rect x="382.4" y="217.82" width="9" height="13" rx="1.2" fill="url(#bg)" opacity="0.06"/>
<rect x="381.6" y="217.62" width="10.6" height="13.4" rx="1.5" fill="url(#bg)" opacity="0.02"/>
<rect x="382.4" y="225.52" width="9" height="3.8" rx="1.2" fill="url(#bg)" opacity="0.1"/>
<rect x="381.6" y="225.32" width="10.6" height="4.2" rx="1.5" fill="url(#bg)" opacity="0.04"/>
<rect x="382.4" y="229.22" width="9" height="3.8" rx="1.2" fill="url(#bg)" opacity="0.11"/>
<rect x="381.6" y="229.02" width="10.6" height="4.2" rx="1.5" fill="url(#bg)" opacity="0.04"/>
<rect x="380.8" y="234.52" width="11" height="5.8" rx="1.2" fill="url(#bg)" opacity="0.8"/>
<rect x="380" y="234.32" width="12.6" height="6.2" rx="1.5" fill="url(#bg)" opacity="0.3"/>
<rect x="382.4" y="238.62" width="9" height="4" rx="1.2" fill="url(#bg)" opacity="0.28"/>
<rect x="381.6" y="238.42" width="10.6" height="4.4" rx="1.5" fill="url(#bg)" opacity="0.1"/>
<rect x="382.4" y="239.82" width="9" height="12" rx="1.2" fill="url(#bg)" opacity="0.05"/>
<rect x="381.6" y="239.62" width="10.6" height="12.4" rx="1.5" fill="url(#bg)" opacity="0.02"/>
<rect x="382.4" y="253.42" width="9" height="4.4" rx="1.2" fill="url(#bg)" opacity="0.3"/>
<rect x="381.6" y="253.22" width="10.6" height="4.8" rx="1.5" fill="url(#bg)" opacity="0.11"/>
<rect x="396.5" y="151.8" width="8.8" height="123.4" fill="url(#lgh)" opacity="0.65"/>
<rect x="395.5" y="151.8" width="10.8" height="123.4" fill="url(#lgh)" opacity="0.4"/>
<rect x="396.4" y="162.82" width="9" height="5" rx="1.2" fill="url(#bg)" opacity="0.06"/>
<rect x="395.6" y="162.62" width="10.6" height="5.4" rx="1.5" fill="url(#bg)" opacity="0.02"/>
<rect x="396.4" y="165.02" width="9" height="3.6" rx="1.2" fill="url(#bg)" opacity="0.12"/>
<rect x="395.6" y="164.82" width="10.6" height="4" rx="1.5" fill="url(#bg)" opacity="0.04"/>
<rect x="396.4" y="167.32" width="9" height="3.6" rx="1.2" fill="url(#bg)" opacity="0.14"/>
<rect x="395.6" y="167.12" width="10.6" height="4" rx="1.5" fill="url(#bg)" opacity="0.05"/>
<rect x="396.4" y="172.42" width="9" height="4" rx="1.2" fill="url(#bg)" opacity="0.68"/>
<rect x="395.6" y="172.22" width="10.6" height="4.4" rx="1.5" fill="url(#bg)" opacity="0.26"/>
<rect x="396.4" y="176.82" width="9" height="10" rx="1.2" fill="url(#bg)" opacity="0.05"/>
<rect x="395.6" y="176.62" width="10.6" height="10.4" rx="1.5" fill="url(#bg)" opacity="0.02"/>
<rect x="396.4" y="186.12" width="9" height="4.4" rx="1.2" fill="url(#bg)" opacity="0.64"/>
<rect x="395.6" y="185.92" width="10.6" height="4.8" rx="1.5" fill="url(#bg)" opacity="0.24"/>
<rect x="396.4" y="189.32" width="9" height="3.6" rx="1.2" fill="url(#bg)" opacity="0.2"/>
<rect x="395.6" y="189.12" width="10.6" height="4" rx="1.5" fill="url(#bg)" opacity="0.07"/>
<rect x="396.4" y="192.07" width="9" height="6.5" rx="1.2" fill="url(#bg)" opacity="0.18"/>
<rect x="395.6" y="191.87" width="10.6" height="6.9" rx="1.5" fill="url(#bg)" opacity="0.07"/>
<rect x="396.4" y="198.22" width="9" height="4.8" rx="1.2" fill="url(#bg)" opacity="0.74"/>
<rect x="395.6" y="198.02" width="10.6" height="5.2" rx="1.5" fill="url(#bg)" opacity="0.28"/>
<rect x="396.4" y="202.82" width="9" height="3.8" rx="1.2" fill="url(#bg)" opacity="0.54"/>
<rect x="395.6" y="202.62" width="10.6" height="4.2" rx="1.5" fill="url(#bg)" opacity="0.2"/>
<rect x="396.4" y="204.62" width="9" height="3.6" rx="1.2" fill="url(#bg)" opacity="0.44"/>
<rect x="395.6" y="204.42" width="10.6" height="4" rx="1.5" fill="url(#bg)" opacity="0.17"/>
<rect x="396.4" y="206.22" width="9" height="4" rx="1.2" fill="url(#bg)" opacity="0.36"/>
<rect x="395.6" y="206.02" width="10.6" height="4.4" rx="1.5" fill="url(#bg)" opacity="0.14"/>
<rect x="396.4" y="209.4" width="9" height="5.25" rx="1.2" fill="url(#bg)" opacity="0.74"/>
<rect x="395.6" y="209.2" width="10.6" height="5.65" rx="1.5" fill="url(#bg)" opacity="0.28"/>
<rect x="396.4" y="212.82" width="9" height="5" rx="1.2" fill="url(#bg)" opacity="0.1"/>
<rect x="395.6" y="212.62" width="10.6" height="5.4" rx="1.5" fill="url(#bg)" opacity="0.04"/>
<rect x="396.4" y="217.62" width="9" height="3.6" rx="1.2" fill="url(#bg)" opacity="0.07"/>
<rect x="395.6" y="217.42" width="10.6" height="4" rx="1.5" fill="url(#bg)" opacity="0.03"/>
<rect x="396.4" y="217.82" width="9" height="13" rx="1.2" fill="url(#bg)" opacity="0.06"/>
<rect x="395.6" y="217.62" width="10.6" height="13.4" rx="1.5" fill="url(#bg)" opacity="0.02"/>
<rect x="396.4" y="225.52" width="9" height="3.8" rx="1.2" fill="url(#bg)" opacity="0.1"/>
<rect x="395.6" y="225.32" width="10.6" height="4.2" rx="1.5" fill="url(#bg)" opacity="0.04"/>
<rect x="396.4" y="229.22" width="9" height="3.8" rx="1.2" fill="url(#bg)" opacity="0.11"/>
<rect x="395.6" y="229.02" width="10.6" height="4.2" rx="1.5" fill="url(#bg)" opacity="0.04"/>
<rect x="394.8" y="234.52" width="11" height="5.8" rx="1.2" fill="url(#bg)" opacity="0.8"/>
<rect x="394" y="234.32" width="12.6" height="6.2" rx="1.5" fill="url(#bg)" opacity="0.3"/>
<rect x="396.4" y="238.62" width="9" height="4" rx="1.2" fill="url(#bg)" opacity="0.28"/>
<rect x="395.6" y="238.42" width="10.6" height="4.4" rx="1.5" fill="url(#bg)" opacity="0.1"/>
<rect x="396.4" y="239.82" width="9" height="12" rx="1.2" fill="url(#bg)" opacity="0.05"/>
<rect x="395.6" y="239.62" width="10.6" height="12.4" rx="1.5" fill="url(#bg)" opacity="0.02"/>
<rect x="396.4" y="253.42" width="9" height="4.4" rx="1.2" fill="url(#bg)" opacity="0.3"/>
<rect x="395.6" y="253.22" width="10.6" height="4.8" rx="1.5" fill="url(#bg)" opacity="0.11"/>
<rect x="410.1" y="151.8" width="8.8" height="123.4" fill="url(#lgh)" opacity="0.65"/>
<rect x="409.1" y="151.8" width="10.8" height="123.4" fill="url(#lgh)" opacity="0.4"/>
<rect x="410" y="162.82" width="9" height="5" rx="1.2" fill="url(#bg)" opacity="0.06"/>
<rect x="409.2" y="162.62" width="10.6" height="5.4" rx="1.5" fill="url(#bg)" opacity="0.02"/>
<rect x="410" y="165.02" width="9" height="3.6" rx="1.2" fill="url(#bg)" opacity="0.12"/>
<rect x="409.2" y="164.82" width="10.6" height="4" rx="1.5" fill="url(#bg)" opacity="0.04"/>
<rect x="410" y="167.32" width="9" height="3.6" rx="1.2" fill="url(#bg)" opacity="0.14"/>
<rect x="409.2" y="167.12" width="10.6" height="4" rx="1.5" fill="url(#bg)" opacity="0.05"/>
<rect x="410" y="172.42" width="9" height="4" rx="1.2" fill="url(#bg)" opacity="0.68"/>
<rect x="409.2" y="172.22" width="10.6" height="4.4" rx="1.5" fill="url(#bg)" opacity="0.26"/>
<rect x="410" y="176.82" width="9" height="10" rx="1.2" fill="url(#bg)" opacity="0.05"/>
<rect x="409.2" y="176.62" width="10.6" height="10.4" rx="1.5" fill="url(#bg)" opacity="0.02"/>
<rect x="410" y="186.12" width="9" height="4.4" rx="1.2" fill="url(#bg)" opacity="0.64"/>
<rect x="409.2" y="185.92" width="10.6" height="4.8" rx="1.5" fill="url(#bg)" opacity="0.24"/>
<rect x="410" y="189.32" width="9" height="3.6" rx="1.2" fill="url(#bg)" opacity="0.2"/>
<rect x="409.2" y="189.12" width="10.6" height="4" rx="1.5" fill="url(#bg)" opacity="0.07"/>
<rect x="410" y="192.07" width="9" height="6.5" rx="1.2" fill="url(#bg)" opacity="0.18"/>
<rect x="409.2" y="191.87" width="10.6" height="6.9" rx="1.5" fill="url(#bg)" opacity="0.07"/>
<rect x="410" y="198.22" width="9" height="4.8" rx="1.2" fill="url(#bg)" opacity="0.74"/>
<rect x="409.2" y="198.02" width="10.6" height="5.2" rx="1.5" fill="url(#bg)" opacity="0.28"/>
<rect x="410" y="202.82" width="9" height="3.8" rx="1.2" fill="url(#bg)" opacity="0.54"/>
<rect x="409.2" y="202.62" width="10.6" height="4.2" rx="1.5" fill="url(#bg)" opacity="0.2"/>
<rect x="410" y="204.62" width="9" height="3.6" rx="1.2" fill="url(#bg)" opacity="0.44"/>
<rect x="409.2" y="204.42" width="10.6" height="4" rx="1.5" fill="url(#bg)" opacity="0.17"/>
<rect x="410" y="206.22" width="9" height="4" rx="1.2" fill="url(#bg)" opacity="0.36"/>
<rect x="409.2" y="206.02" width="10.6" height="4.4" rx="1.5" fill="url(#bg)" opacity="0.14"/>
<rect x="410" y="209.46" width="9" height="5.12" rx="1.2" fill="url(#bg)" opacity="0.74"/>
<rect x="409.2" y="209.26" width="10.6" height="5.52" rx="1.5" fill="url(#bg)" opacity="0.28"/>
<rect x="410" y="212.82" width="9" height="5" rx="1.2" fill="url(#bg)" opacity="0.1"/>
<rect x="409.2" y="212.62" width="10.6" height="5.4" rx="1.5" fill="url(#bg)" opacity="0.04"/>
<rect x="410" y="217.62" width="9" height="3.6" rx="1.2" fill="url(#bg)" opacity="0.07"/>
<rect x="409.2" y="217.42" width="10.6" height="4" rx="1.5" fill="url(#bg)" opacity="0.03"/>
<rect x="410" y="217.82" width="9" height="13" rx="1.2" fill="url(#bg)" opacity="0.06"/>
<rect x="409.2" y="217.62" width="10.6" height="13.4" rx="1.5" fill="url(#bg)" opacity="0.02"/>
<rect x="410" y="225.52" width="9" height="3.8" rx="1.2" fill="url(#bg)" opacity="0.1"/>
<rect x="409.2" y="225.32" width="10.6" height="4.2" rx="1.5" fill="url(#bg)" opacity="0.04"/>
<rect x="410" y="229.22" width="9" height="3.8" rx="1.2" fill="url(#bg)" opacity="0.11"/>
<rect x="409.2" y="229.02" width="10.6" height="4.2" rx="1.5" fill="url(#bg)" opacity="0.04"/>
<rect x="408.4" y="234.52" width="11" height="5.8" rx="1.2" fill="url(#bg)" opacity="0.8"/>
<rect x="407.6" y="234.32" width="12.6" height="6.2" rx="1.5" fill="url(#bg)" opacity="0.3"/>
<rect x="410" y="238.62" width="9" height="4" rx="1.2" fill="url(#bg)" opacity="0.28"/>
<rect x="409.2" y="238.42" width="10.6" height="4.4" rx="1.5" fill="url(#bg)" opacity="0.1"/>
<rect x="410" y="239.82" width="9" height="12" rx="1.2" fill="url(#bg)" opacity="0.05"/>
<rect x="409.2" y="239.62" width="10.6" height="12.4" rx="1.5" fill="url(#bg)" opacity="0.02"/>
<rect x="410" y="253.42" width="9" height="4.4" rx="1.2" fill="url(#bg)" opacity="0.3"/>
<rect x="409.2" y="253.22" width="10.6" height="4.8" rx="1.5" fill="url(#bg)" opacity="0.11"/>
<rect x="424.7" y="151.8" width="8.8" height="123.4" fill="url(#lgl)" opacity="0.65"/>
<rect x="423.7" y="151.8" width="10.8" height="123.4" fill="url(#lgl)" opacity="0.4"/>
<rect x="424.6" y="172.13" width="9" height="3.5" rx="1.2" fill="url(#bg)" opacity="0.06"/>
<rect x="423.8" y="171.93" width="10.6" height="3.9" rx="1.5" fill="url(#bg)" opacity="0.02"/>
<rect x="424.6" y="188.83" width="9" height="3.5" rx="1.2" fill="url(#bg)" opacity="0.1"/>
<rect x="423.8" y="188.63" width="10.6" height="3.9" rx="1.5" fill="url(#bg)" opacity="0.04"/>
<rect x="424.6" y="191.28" width="9" height="3.4" rx="1.2" fill="url(#bg)" opacity="0.08"/>
<rect x="423.8" y="191.08" width="10.6" height="3.8" rx="1.5" fill="url(#bg)" opacity="0.03"/>
<rect x="424.6" y="198.23" width="9" height="3.7" rx="1.2" fill="url(#bg)" opacity="0.34"/>
<rect x="423.8" y="198.03" width="10.6" height="4.1" rx="1.5" fill="url(#bg)" opacity="0.13"/>
<rect x="424.6" y="200.68" width="9" height="3.6" rx="1.2" fill="url(#bg)" opacity="0.32"/>
<rect x="423.8" y="200.48" width="10.6" height="4" rx="1.5" fill="url(#bg)" opacity="0.12"/>
<rect x="424.6" y="203.08" width="9" height="3.6" rx="1.2" fill="url(#bg)" opacity="0.26"/>
<rect x="423.8" y="202.88" width="10.6" height="4" rx="1.5" fill="url(#bg)" opacity="0.1"/>
<rect x="424.6" y="210.33" width="9" height="3.5" rx="1.2" fill="url(#bg)" opacity="0.1"/>
<rect x="423.8" y="210.13" width="10.6" height="3.9" rx="1.5" fill="url(#bg)" opacity="0.04"/>
<rect x="424.6" y="216.78" width="9" height="3.6" rx="1.2" fill="url(#bg)" opacity="0.11"/>
<rect x="423.8" y="216.58" width="10.6" height="4" rx="1.5" fill="url(#bg)" opacity="0.04"/>
<rect x="424.6" y="228.63" width="9" height="3.5" rx="1.2" fill="url(#bg)" opacity="0.08"/>
<rect x="423.8" y="228.43" width="10.6" height="3.9" rx="1.5" fill="url(#bg)" opacity="0.03"/>
<rect x="424.6" y="254.38" width="9" height="3.4" rx="1.2" fill="url(#bg)" opacity="0.2"/>
<rect x="423.8" y="254.18" width="10.6" height="3.8" rx="1.5" fill="url(#bg)" opacity="0.07"/>
<rect x="438" y="151.8" width="8.8" height="123.4" fill="url(#lgh)" opacity="0.65"/>
<rect x="437" y="151.8" width="10.8" height="123.4" fill="url(#lgh)" opacity="0.4"/>
<rect x="437.9" y="162.82" width="9" height="5" rx="1.2" fill="url(#bg)" opacity="0.1"/>
<rect x="437.1" y="162.62" width="10.6" height="5.4" rx="1.5" fill="url(#bg)" opacity="0.04"/>
<rect x="437.9" y="165.02" width="9" height="3.6" rx="1.2" fill="url(#bg)" opacity="0.18"/>
<rect x="437.1" y="164.82" width="10.6" height="4" rx="1.5" fill="url(#bg)" opacity="0.07"/>
<rect x="437.9" y="167.32" width="9" height="3.6" rx="1.2" fill="url(#bg)" opacity="0.24"/>
<rect x="437.1" y="167.12" width="10.6" height="4" rx="1.5" fill="url(#bg)" opacity="0.09"/>
<rect x="437.9" y="172.42" width="9" height="4" rx="1.2" fill="url(#bg)" opacity="0.68"/>
<rect x="437.1" y="172.22" width="10.6" height="4.4" rx="1.5" fill="url(#bg)" opacity="0.26"/>
<rect x="437.9" y="176.82" width="9" height="10" rx="1.2" fill="url(#bg)" opacity="0.05"/>
<rect x="437.1" y="176.62" width="10.6" height="10.4" rx="1.5" fill="url(#bg)" opacity="0.02"/>
<rect x="437.9" y="186.12" width="9" height="4.4" rx="1.2" fill="url(#bg)" opacity="0.64"/>
<rect x="437.1" y="185.92" width="10.6" height="4.8" rx="1.5" fill="url(#bg)" opacity="0.24"/>
<rect x="437.9" y="189.32" width="9" height="3.6" rx="1.2" fill="url(#bg)" opacity="0.4"/>
<rect x="437.1" y="189.12" width="10.6" height="4" rx="1.5" fill="url(#bg)" opacity="0.15"/>
<rect x="437.9" y="192.07" width="9" height="6.5" rx="1.2" fill="url(#bg)" opacity="0.35"/>
<rect x="437.1" y="191.87" width="10.6" height="6.9" rx="1.5" fill="url(#bg)" opacity="0.13"/>
<rect x="437.9" y="198.22" width="9" height="4.8" rx="1.2" fill="url(#bg)" opacity="0.74"/>
<rect x="437.1" y="198.02" width="10.6" height="5.2" rx="1.5" fill="url(#bg)" opacity="0.28"/>
<rect x="437.9" y="202.82" width="9" height="3.8" rx="1.2" fill="url(#bg)" opacity="0.54"/>
<rect x="437.1" y="202.62" width="10.6" height="4.2" rx="1.5" fill="url(#bg)" opacity="0.2"/>
<rect x="437.9" y="204.62" width="9" height="3.6" rx="1.2" fill="url(#bg)" opacity="0.44"/>
<rect x="437.1" y="204.42" width="10.6" height="4" rx="1.5" fill="url(#bg)" opacity="0.17"/>
<rect x="437.9" y="206.22" width="9" height="4" rx="1.2" fill="url(#bg)" opacity="0.36"/>
<rect x="437.1" y="206.02" width="10.6" height="4.4" rx="1.5" fill="url(#bg)" opacity="0.14"/>
<rect x="437.9" y="209.46" width="9" height="5.12" rx="1.2" fill="url(#bg)" opacity="0.74"/>
<rect x="437.1" y="209.26" width="10.6" height="5.52" rx="1.5" fill="url(#bg)" opacity="0.28"/>
<rect x="437.9" y="212.82" width="9" height="5" rx="1.2" fill="url(#bg)" opacity="0.1"/>
<rect x="437.1" y="212.62" width="10.6" height="5.4" rx="1.5" fill="url(#bg)" opacity="0.04"/>
<rect x="437.9" y="217.62" width="9" height="3.6" rx="1.2" fill="url(#bg)" opacity="0.07"/>
<rect x="437.1" y="217.42" width="10.6" height="4" rx="1.5" fill="url(#bg)" opacity="0.03"/>
<rect x="437.9" y="217.82" width="9" height="13" rx="1.2" fill="url(#bg)" opacity="0.06"/>
<rect x="437.1" y="217.62" width="10.6" height="13.4" rx="1.5" fill="url(#bg)" opacity="0.02"/>
<rect x="437.9" y="225.52" width="9" height="3.8" rx="1.2" fill="url(#bg)" opacity="0.12"/>
<rect x="437.1" y="225.32" width="10.6" height="4.2" rx="1.5" fill="url(#bg)" opacity="0.05"/>
<rect x="437.9" y="229.22" width="9" height="3.8" rx="1.2" fill="url(#bg)" opacity="0.13"/>
<rect x="437.1" y="229.02" width="10.6" height="4.2" rx="1.5" fill="url(#bg)" opacity="0.05"/>
<rect x="436.3" y="234.52" width="11" height="5.8" rx="1.2" fill="url(#bg)" opacity="0.8"/>
<rect x="435.5" y="234.32" width="12.6" height="6.2" rx="1.5" fill="url(#bg)" opacity="0.3"/>
<rect x="437.9" y="238.62" width="9" height="4" rx="1.2" fill="url(#bg)" opacity="0.28"/>
<rect x="437.1" y="238.42" width="10.6" height="4.4" rx="1.5" fill="url(#bg)" opacity="0.1"/>
<rect x="437.9" y="239.82" width="9" height="12" rx="1.2" fill="url(#bg)" opacity="0.05"/>
<rect x="437.1" y="239.62" width="10.6" height="12.4" rx="1.5" fill="url(#bg)" opacity="0.02"/>
<rect x="437.9" y="253.42" width="9" height="4.4" rx="1.2" fill="url(#bg)" opacity="0.3"/>
<rect x="437.1" y="253.22" width="10.6" height="4.8" rx="1.5" fill="url(#bg)" opacity="0.11"/>
<rect x="451.7" y="151.8" width="8.8" height="123.4" fill="url(#lgh)" opacity="0.65"/>
<rect x="450.7" y="151.8" width="10.8" height="123.4" fill="url(#lgh)" opacity="0.4"/>
<rect x="451.6" y="162.82" width="9" height="5" rx="1.2" fill="url(#bg)" opacity="0.1"/>
<rect x="450.8" y="162.62" width="10.6" height="5.4" rx="1.5" fill="url(#bg)" opacity="0.04"/>
<rect x="451.6" y="165.02" width="9" height="3.6" rx="1.2" fill="url(#bg)" opacity="0.17"/>
<rect x="450.8" y="164.82" width="10.6" height="4" rx="1.5" fill="url(#bg)" opacity="0.06"/>
<rect x="451.6" y="167.32" width="9" height="3.6" rx="1.2" fill="url(#bg)" opacity="0.23"/>
<rect x="450.8" y="167.12" width="10.6" height="4" rx="1.5" fill="url(#bg)" opacity="0.09"/>
<rect x="451.6" y="172.42" width="9" height="4" rx="1.2" fill="url(#bg)" opacity="0.68"/>
<rect x="450.8" y="172.22" width="10.6" height="4.4" rx="1.5" fill="url(#bg)" opacity="0.26"/>
<rect x="451.6" y="176.82" width="9" height="10" rx="1.2" fill="url(#bg)" opacity="0.05"/>
<rect x="450.8" y="176.62" width="10.6" height="10.4" rx="1.5" fill="url(#bg)" opacity="0.02"/>
<rect x="451.6" y="186.12" width="9" height="4.4" rx="1.2" fill="url(#bg)" opacity="0.64"/>
<rect x="450.8" y="185.92" width="10.6" height="4.8" rx="1.5" fill="url(#bg)" opacity="0.24"/>
<rect x="451.6" y="189.32" width="9" height="3.6" rx="1.2" fill="url(#bg)" opacity="0.36"/>
<rect x="450.8" y="189.12" width="10.6" height="4" rx="1.5" fill="url(#bg)" opacity="0.14"/>
<rect x="451.6" y="192.07" width="9" height="6.5" rx="1.2" fill="url(#bg)" opacity="0.32"/>
<rect x="450.8" y="191.87" width="10.6" height="6.9" rx="1.5" fill="url(#bg)" opacity="0.12"/>
<rect x="451.6" y="198.22" width="9" height="4.8" rx="1.2" fill="url(#bg)" opacity="0.74"/>
<rect x="450.8" y="198.02" width="10.6" height="5.2" rx="1.5" fill="url(#bg)" opacity="0.28"/>
<rect x="451.6" y="202.82" width="9" height="3.8" rx="1.2" fill="url(#bg)" opacity="0.54"/>
<rect x="450.8" y="202.62" width="10.6" height="4.2" rx="1.5" fill="url(#bg)" opacity="0.2"/>
<rect x="451.6" y="204.62" width="9" height="3.6" rx="1.2" fill="url(#bg)" opacity="0.44"/>
<rect x="450.8" y="204.42" width="10.6" height="4" rx="1.5" fill="url(#bg)" opacity="0.17"/>
<rect x="451.6" y="206.22" width="9" height="4" rx="1.2" fill="url(#bg)" opacity="0.36"/>
<rect x="450.8" y="206.02" width="10.6" height="4.4" rx="1.5" fill="url(#bg)" opacity="0.14"/>
<rect x="451.6" y="209.53" width="9" height="4.99" rx="1.2" fill="url(#bg)" opacity="0.74"/>
<rect x="450.8" y="209.33" width="10.6" height="5.39" rx="1.5" fill="url(#bg)" opacity="0.28"/>
<rect x="451.6" y="212.82" width="9" height="5" rx="1.2" fill="url(#bg)" opacity="0.1"/>
<rect x="450.8" y="212.62" width="10.6" height="5.4" rx="1.5" fill="url(#bg)" opacity="0.04"/>
<rect x="451.6" y="217.62" width="9" height="3.6" rx="1.2" fill="url(#bg)" opacity="0.07"/>
<rect x="450.8" y="217.42" width="10.6" height="4" rx="1.5" fill="url(#bg)" opacity="0.03"/>
<rect x="451.6" y="217.82" width="9" height="13" rx="1.2" fill="url(#bg)" opacity="0.06"/>
<rect x="450.8" y="217.62" width="10.6" height="13.4" rx="1.5" fill="url(#bg)" opacity="0.02"/>
<rect x="451.6" y="225.52" width="9" height="3.8" rx="1.2" fill="url(#bg)" opacity="0.1"/>
<rect x="450.8" y="225.32" width="10.6" height="4.2" rx="1.5" fill="url(#bg)" opacity="0.04"/>
<rect x="451.6" y="229.22" width="9" height="3.8" rx="1.2" fill="url(#bg)" opacity="0.11"/>
<rect x="450.8" y="229.02" width="10.6" height="4.2" rx="1.5" fill="url(#bg)" opacity="0.04"/>
<rect x="450" y="234.52" width="11" height="5.8" rx="1.2" fill="url(#bg)" opacity="0.8"/>
<rect x="449.2" y="234.32" width="12.6" height="6.2" rx="1.5" fill="url(#bg)" opacity="0.3"/>
<rect x="451.6" y="238.62" width="9" height="4" rx="1.2" fill="url(#bg)" opacity="0.28"/>
<rect x="450.8" y="238.42" width="10.6" height="4.4" rx="1.5" fill="url(#bg)" opacity="0.1"/>
<rect x="451.6" y="239.82" width="9" height="12" rx="1.2" fill="url(#bg)" opacity="0.05"/>
<rect x="450.8" y="239.62" width="10.6" height="12.4" rx="1.5" fill="url(#bg)" opacity="0.02"/>
<rect x="451.6" y="253.42" width="9" height="4.4" rx="1.2" fill="url(#bg)" opacity="0.3"/>
<rect x="450.8" y="253.22" width="10.6" height="4.8" rx="1.5" fill="url(#bg)" opacity="0.11"/>
<rect x="465.4" y="151.8" width="8.8" height="123.4" fill="url(#lgh)" opacity="0.65"/>
<rect x="464.4" y="151.8" width="10.8" height="123.4" fill="url(#lgh)" opacity="0.4"/>
<rect x="465.3" y="162.82" width="9" height="5" rx="1.2" fill="url(#bg)" opacity="0.1"/>
<rect x="464.5" y="162.62" width="10.6" height="5.4" rx="1.5" fill="url(#bg)" opacity="0.04"/>
<rect x="465.3" y="165.02" width="9" height="3.6" rx="1.2" fill="url(#bg)" opacity="0.17"/>
<rect x="464.5" y="164.82" width="10.6" height="4" rx="1.5" fill="url(#bg)" opacity="0.06"/>
<rect x="465.3" y="167.32" width="9" height="3.6" rx="1.2" fill="url(#bg)" opacity="0.23"/>
<rect x="464.5" y="167.12" width="10.6" height="4" rx="1.5" fill="url(#bg)" opacity="0.09"/>
<rect x="465.3" y="172.42" width="9" height="4" rx="1.2" fill="url(#bg)" opacity="0.68"/>
<rect x="464.5" y="172.22" width="10.6" height="4.4" rx="1.5" fill="url(#bg)" opacity="0.26"/>
<rect x="465.3" y="176.82" width="9" height="10" rx="1.2" fill="url(#bg)" opacity="0.05"/>
<rect x="464.5" y="176.62" width="10.6" height="10.4" rx="1.5" fill="url(#bg)" opacity="0.02"/>
<rect x="465.3" y="186.12" width="9" height="4.4" rx="1.2" fill="url(#bg)" opacity="0.64"/>
<rect x="464.5" y="185.92" width="10.6" height="4.8" rx="1.5" fill="url(#bg)" opacity="0.24"/>
<rect x="465.3" y="189.32" width="9" height="3.6" rx="1.2" fill="url(#bg)" opacity="0.36"/>
<rect x="464.5" y="189.12" width="10.6" height="4" rx="1.5" fill="url(#bg)" opacity="0.14"/>
<rect x="465.3" y="192.07" width="9" height="6.5" rx="1.2" fill="url(#bg)" opacity="0.32"/>
<rect x="464.5" y="191.87" width="10.6" height="6.9" rx="1.5" fill="url(#bg)" opacity="0.12"/>
<rect x="465.3" y="198.22" width="9" height="4.8" rx="1.2" fill="url(#bg)" opacity="0.74"/>
<rect x="464.5" y="198.02" width="10.6" height="5.2" rx="1.5" fill="url(#bg)" opacity="0.28"/>
<rect x="465.3" y="202.82" width="9" height="3.8" rx="1.2" fill="url(#bg)" opacity="0.54"/>
<rect x="464.5" y="202.62" width="10.6" height="4.2" rx="1.5" fill="url(#bg)" opacity="0.2"/>
<rect x="465.3" y="204.62" width="9" height="3.6" rx="1.2" fill="url(#bg)" opacity="0.44"/>
<rect x="464.5" y="204.42" width="10.6" height="4" rx="1.5" fill="url(#bg)" opacity="0.17"/>
<rect x="465.3" y="206.22" width="9" height="4" rx="1.2" fill="url(#bg)" opacity="0.36"/>
<rect x="464.5" y="206.02" width="10.6" height="4.4" rx="1.5" fill="url(#bg)" opacity="0.14"/>
<rect x="465.3" y="209.27" width="9" height="5.51" rx="1.2" fill="url(#bg)" opacity="0.8"/>
<rect x="464.5" y="209.07" width="10.6" height="5.91" rx="1.5" fill="url(#bg)" opacity="0.3"/>
<rect x="465.3" y="212.82" width="9" height="5" rx="1.2" fill="url(#bg)" opacity="0.1"/>
<rect x="464.5" y="212.62" width="10.6" height="5.4" rx="1.5" fill="url(#bg)" opacity="0.04"/>
<rect x="465.3" y="217.62" width="9" height="3.6" rx="1.2" fill="url(#bg)" opacity="0.07"/>
<rect x="464.5" y="217.42" width="10.6" height="4" rx="1.5" fill="url(#bg)" opacity="0.03"/>
<rect x="465.3" y="217.82" width="9" height="13" rx="1.2" fill="url(#bg)" opacity="0.06"/>
<rect x="464.5" y="217.62" width="10.6" height="13.4" rx="1.5" fill="url(#bg)" opacity="0.02"/>
<rect x="465.3" y="225.52" width="9" height="3.8" rx="1.2" fill="url(#bg)" opacity="0.1"/>
<rect x="464.5" y="225.32" width="10.6" height="4.2" rx="1.5" fill="url(#bg)" opacity="0.04"/>
<rect x="465.3" y="229.22" width="9" height="3.8" rx="1.2" fill="url(#bg)" opacity="0.11"/>
<rect x="464.5" y="229.02" width="10.6" height="4.2" rx="1.5" fill="url(#bg)" opacity="0.04"/>
<rect x="463.7" y="234.52" width="11" height="5.8" rx="1.2" fill="url(#bg)" opacity="0.8"/>
<rect x="462.9" y="234.32" width="12.6" height="6.2" rx="1.5" fill="url(#bg)" opacity="0.3"/>
<rect x="465.3" y="238.62" width="9" height="4" rx="1.2" fill="url(#bg)" opacity="0.28"/>
<rect x="464.5" y="238.42" width="10.6" height="4.4" rx="1.5" fill="url(#bg)" opacity="0.1"/>
<rect x="465.3" y="239.82" width="9" height="12" rx="1.2" fill="url(#bg)" opacity="0.05"/>
<rect x="464.5" y="239.62" width="10.6" height="12.4" rx="1.5" fill="url(#bg)" opacity="0.02"/>
<rect x="465.3" y="253.3" width="9" height="4.64" rx="1.2" fill="url(#bg)" opacity="0.52"/>
<rect x="464.5" y="253.1" width="10.6" height="5.04" rx="1.5" fill="url(#bg)" opacity="0.19"/>
<rect x="479.2" y="151.8" width="8.8" height="123.4" fill="url(#lgl)" opacity="0.65"/>
<rect x="478.2" y="151.8" width="10.8" height="123.4" fill="url(#lgl)" opacity="0.4"/>
<rect x="479.1" y="197.88" width="9" height="4" rx="1.2" fill="url(#bg)" opacity="0.48"/>
<rect x="478.3" y="197.68" width="10.6" height="4.4" rx="1.5" fill="url(#bg)" opacity="0.18"/>
<rect x="479.1" y="204.63" width="9" height="3.5" rx="1.2" fill="url(#bg)" opacity="0.24"/>
<rect x="478.3" y="204.43" width="10.6" height="3.9" rx="1.5" fill="url(#bg)" opacity="0.09"/>
<rect x="479.1" y="251.63" width="9" height="3.5" rx="1.2" fill="url(#bg)" opacity="0.24"/>
<rect x="478.3" y="251.43" width="10.6" height="3.9" rx="1.5" fill="url(#bg)" opacity="0.09"/>
</g></g>
<rect x="364.8" y="156.8" width="117.6" height="113.4" fill="none" stroke="#2a2a2a" stroke-width="1.2"/>
<line x1="364.7" y1="275.8" x2="479.4" y2="275.8" stroke="#231f20" stroke-width="1.2"/>
<text x="390.2" y="286.3" font-size="7.92" textLength="64" lengthAdjust="spacingAndGlyphs" fill="#231f20">PKC substrates-p-S</text>
<text x="38.1" y="274.5" font-size="7.92" textLength="25.9" lengthAdjust="spacingAndGlyphs" fill="#231f20">Control</text>
<text x="96.4" y="274.5" font-size="7.92" textLength="28.9" lengthAdjust="spacingAndGlyphs" fill="#231f20">Patient 1</text>
<line x1="25.8" y1="279.9" x2="78.5" y2="279.9" stroke="#231f20" stroke-width="1.2"/>
<line x1="87.1" y1="279.9" x2="137.4" y2="279.9" stroke="#231f20" stroke-width="1.2"/>
<rect x="26.4" y="291.1" width="10.0" height="3.0" rx="1.2" fill="url(#bg)" opacity="0.54"/>
<rect x="26.4" y="294" width="10.0" height="2.6" rx="1" fill="url(#bg)" opacity="0.15"/>
<rect x="40.3" y="291.4" width="10.0" height="3.0" rx="1.2" fill="url(#bg)" opacity="0.74"/>
<rect x="40.3" y="294.9" width="10.0" height="2.6" rx="1" fill="url(#bg)" opacity="0.22"/>
<rect x="54.6" y="291.6" width="10.0" height="3.0" rx="1.2" fill="url(#bg)" opacity="0.74"/>
<rect x="54.6" y="295.1" width="10.0" height="2.6" rx="1" fill="url(#bg)" opacity="0.22"/>
<rect x="69.4" y="291.9" width="10.0" height="3.0" rx="1.2" fill="url(#bg)" opacity="1"/>
<rect x="69.4" y="295.9" width="10.0" height="2.6" rx="1" fill="url(#bg)" opacity="0.32"/>
<rect x="84.1" y="292.7" width="10.0" height="3.0" rx="1.2" fill="url(#bg)" opacity="0.68"/>
<rect x="84.1" y="296.4" width="10.0" height="2.6" rx="1" fill="url(#bg)" opacity="0.22"/>
<rect x="98.2" y="292.7" width="10.0" height="3.0" rx="1.2" fill="url(#bg)" opacity="0.68"/>
<rect x="98.2" y="296.2" width="10.0" height="2.6" rx="1" fill="url(#bg)" opacity="0.22"/>
<rect x="113" y="293.1" width="10.0" height="3.0" rx="1.2" fill="url(#bg)" opacity="0.74"/>
<rect x="113" y="296.7" width="10.0" height="2.6" rx="1" fill="url(#bg)" opacity="0.22"/>
<rect x="127.5" y="293.8" width="10.0" height="3.0" rx="1.2" fill="url(#bg)" opacity="0.68"/>
<rect x="127.5" y="297.2" width="10.0" height="2.6" rx="1" fill="url(#bg)" opacity="0.22"/>
<path d="M24.6,313.3 Q29.5,313.3 34.4,316.0" fill="none" stroke="#000" stroke-width="3.6" stroke-linecap="round" opacity="0.25"/>
<path d="M24.6,313.3 Q29.5,313.3 34.4,316.0" fill="none" stroke="#000" stroke-width="2.9" stroke-linecap="round" opacity="0.95"/>
<rect x="38.1" y="313.6" width="11" height="5.2" rx="2.2" ry="2.6" fill="url(#bg)" opacity="0.9"/>
<rect x="38.3" y="314.7" width="10.6" height="3.0" rx="1.92" ry="1.5" fill="#000" opacity="0.95"/>
<rect x="52.5" y="313.8" width="10.8" height="5.2" rx="2.16" ry="2.6" fill="url(#bg)" opacity="0.9"/>
<rect x="52.7" y="314.9" width="10.4" height="3.0" rx="1.89" ry="1.5" fill="#000" opacity="0.95"/>
<rect x="66.7" y="314.2" width="11.4" height="5.2" rx="2.28" ry="2.6" fill="url(#bg)" opacity="0.9"/>
<rect x="66.9" y="315.3" width="11" height="3.0" rx="1.99" ry="1.5" fill="#000" opacity="0.95"/>
<rect x="81.7" y="314.8" width="11.8" height="5.2" rx="2.36" ry="2.6" fill="url(#bg)" opacity="0.9"/>
<rect x="81.9" y="315.9" width="11.4" height="3.0" rx="2.06" ry="1.5" fill="#000" opacity="0.95"/>
<rect x="96.4" y="315" width="11.4" height="5.2" rx="2.28" ry="2.6" fill="url(#bg)" opacity="0.9"/>
<rect x="96.6" y="316.1" width="11" height="3.0" rx="1.99" ry="1.5" fill="#000" opacity="0.95"/>
<rect x="111.2" y="315.8" width="11.8" height="5.2" rx="2.36" ry="2.6" fill="url(#bg)" opacity="0.9"/>
<rect x="111.4" y="316.9" width="11.4" height="3.0" rx="2.06" ry="1.5" fill="#000" opacity="0.95"/>
<rect x="126.2" y="316.4" width="11.2" height="5.2" rx="2.24" ry="2.6" fill="url(#bg)" opacity="0.9"/>
<rect x="126.4" y="317.5" width="10.8" height="3.0" rx="1.96" ry="1.5" fill="#000" opacity="0.95"/>
<rect x="20.6" y="285.6" width="119.6" height="18.6" rx="0.8" fill="none" stroke="#2a2a2a" stroke-width="1.2"/>
<rect x="20.6" y="307.6" width="119.6" height="19.9" rx="0.8" fill="none" stroke="#2a2a2a" stroke-width="1.2"/>
<text x="144.3" y="298.2" font-size="7.92" textLength="35.4" lengthAdjust="spacingAndGlyphs" fill="#231f20">Src-p-Y418</text>
<text x="144.3" y="319.4" font-size="7.92" textLength="26.4" lengthAdjust="spacingAndGlyphs" fill="#231f20">14-3-3ζ</text>
<text x="28.2" y="341.1" font-size="8.03" textLength="3.6" lengthAdjust="spacingAndGlyphs" fill="#231f20">0</text>
<text x="36.8" y="341.1" font-size="8.03" textLength="12.1" lengthAdjust="spacingAndGlyphs" fill="#231f20">100</text>
<text x="52.7" y="341.1" font-size="8.03" textLength="12.1" lengthAdjust="spacingAndGlyphs" fill="#231f20">200</text>
<text x="68.4" y="341.1" font-size="8.03" textLength="12.1" lengthAdjust="spacingAndGlyphs" fill="#231f20">300</text>
<text x="86" y="341.1" font-size="8.03" textLength="3.6" lengthAdjust="spacingAndGlyphs" fill="#231f20">0</text>
<text x="95.6" y="341.1" font-size="8.03" textLength="12" lengthAdjust="spacingAndGlyphs" fill="#231f20">100</text>
<text x="111" y="341.1" font-size="8.03" textLength="12.4" lengthAdjust="spacingAndGlyphs" fill="#231f20">200</text>
<text x="127" y="341.1" font-size="8.03" textLength="12.6" lengthAdjust="spacingAndGlyphs" fill="#231f20">300</text>
<line x1="25.2" y1="345.7" x2="140" y2="345.7" stroke="#231f20" stroke-width="1.2"/>
<text x="61.3" y="355.9" font-size="7.92" textLength="46.6" lengthAdjust="spacingAndGlyphs" fill="#231f20">PAR4-AP (µM)</text>
<line x1="243.3" y1="273.1" x2="243.3" y2="344.6" stroke="#231f20" stroke-width="1.3"/>
<line x1="242.7" y1="344.3" x2="347.6" y2="344.3" stroke="#231f20" stroke-width="1.3"/>
<line x1="240.2" y1="276.1" x2="243.3" y2="276.1" stroke="#231f20" stroke-width="1"/>
<text x="237.9" y="278.95" font-size="7.81" textLength="10.7" lengthAdjust="spacingAndGlyphs" text-anchor="end" fill="#231f20">2.5</text>
<line x1="240.2" y1="290.1" x2="243.3" y2="290.1" stroke="#231f20" stroke-width="1"/>
<text x="237.9" y="292.95" font-size="7.81" textLength="10.7" lengthAdjust="spacingAndGlyphs" text-anchor="end" fill="#231f20">2.0</text>
<line x1="240.2" y1="303.9" x2="243.3" y2="303.9" stroke="#231f20" stroke-width="1"/>
<text x="237.9" y="306.75" font-size="7.81" textLength="10.7" lengthAdjust="spacingAndGlyphs" text-anchor="end" fill="#231f20">1.5</text>
<line x1="240.2" y1="317.3" x2="243.3" y2="317.3" stroke="#231f20" stroke-width="1"/>
<text x="237.9" y="320.15" font-size="7.81" textLength="10.7" lengthAdjust="spacingAndGlyphs" text-anchor="end" fill="#231f20">1.0</text>
<line x1="240.2" y1="331.1" x2="243.3" y2="331.1" stroke="#231f20" stroke-width="1"/>
<text x="237.9" y="333.95" font-size="7.81" textLength="10.7" lengthAdjust="spacingAndGlyphs" text-anchor="end" fill="#231f20">0.5</text>
<line x1="240.2" y1="344.3" x2="243.3" y2="344.3" stroke="#231f20" stroke-width="1"/>
<text x="237.9" y="347.15" font-size="7.81" textLength="10.7" lengthAdjust="spacingAndGlyphs" text-anchor="end" fill="#231f20">0.0</text>
<text transform="translate(208.7,346.3) rotate(-90)" font-size="8.9" textLength="76" lengthAdjust="spacingAndGlyphs" fill="#231f20">Relative Src-p-Y418</text>
<text transform="translate(220.9,331.6) rotate(-90)" font-size="8.9" textLength="44.5" lengthAdjust="spacingAndGlyphs" fill="#231f20">expression</text>
<rect x="247.3" y="317.3" width="8.5" height="27" fill="#a3002e"/>
<rect x="255.8" y="311.9" width="8.4" height="32.4" fill="#2d4b80"/>
<rect x="272.8" y="295.4" width="8.5" height="48.9" fill="#a3002e"/>
<rect x="281.3" y="311.9" width="8.4" height="32.4" fill="#2d4b80"/>
<rect x="298.3" y="287.4" width="8.5" height="56.9" fill="#a3002e"/>
<rect x="306.8" y="309.2" width="8.4" height="35.1" fill="#2d4b80"/>
<rect x="323.8" y="282" width="8.5" height="62.3" fill="#a3002e"/>
<rect x="332.3" y="309.2" width="8.4" height="35.1" fill="#2d4b80"/>
<text x="254" y="355.3" font-size="8.03" textLength="3.4" lengthAdjust="spacingAndGlyphs" fill="#231f20">0</text>
<text x="276.5" y="355.3" font-size="8.03" textLength="12.5" lengthAdjust="spacingAndGlyphs" fill="#231f20">100</text>
<text x="302.8" y="355.3" font-size="8.03" textLength="12.5" lengthAdjust="spacingAndGlyphs" fill="#231f20">200</text>
<text x="328" y="355.3" font-size="8.03" textLength="12.4" lengthAdjust="spacingAndGlyphs" fill="#231f20">300</text>
<text x="267" y="367.7" font-size="8.77" textLength="56" lengthAdjust="spacingAndGlyphs" fill="#231f20">PAR4-AP (µM)</text>
<rect x="353.1" y="319.1" width="7" height="6.7" fill="#a3002e"/>
<text x="363.1" y="325.2" font-size="7.92" textLength="24.2" lengthAdjust="spacingAndGlyphs" fill="#231f20">Control</text>
<rect x="353.1" y="329.2" width="7" height="6.6" fill="#2d4b80"/>
<text x="363.1" y="335.3" font-size="7.92" textLength="27.2" lengthAdjust="spacingAndGlyphs" fill="#231f20">Patient 1</text></svg></body></html>
